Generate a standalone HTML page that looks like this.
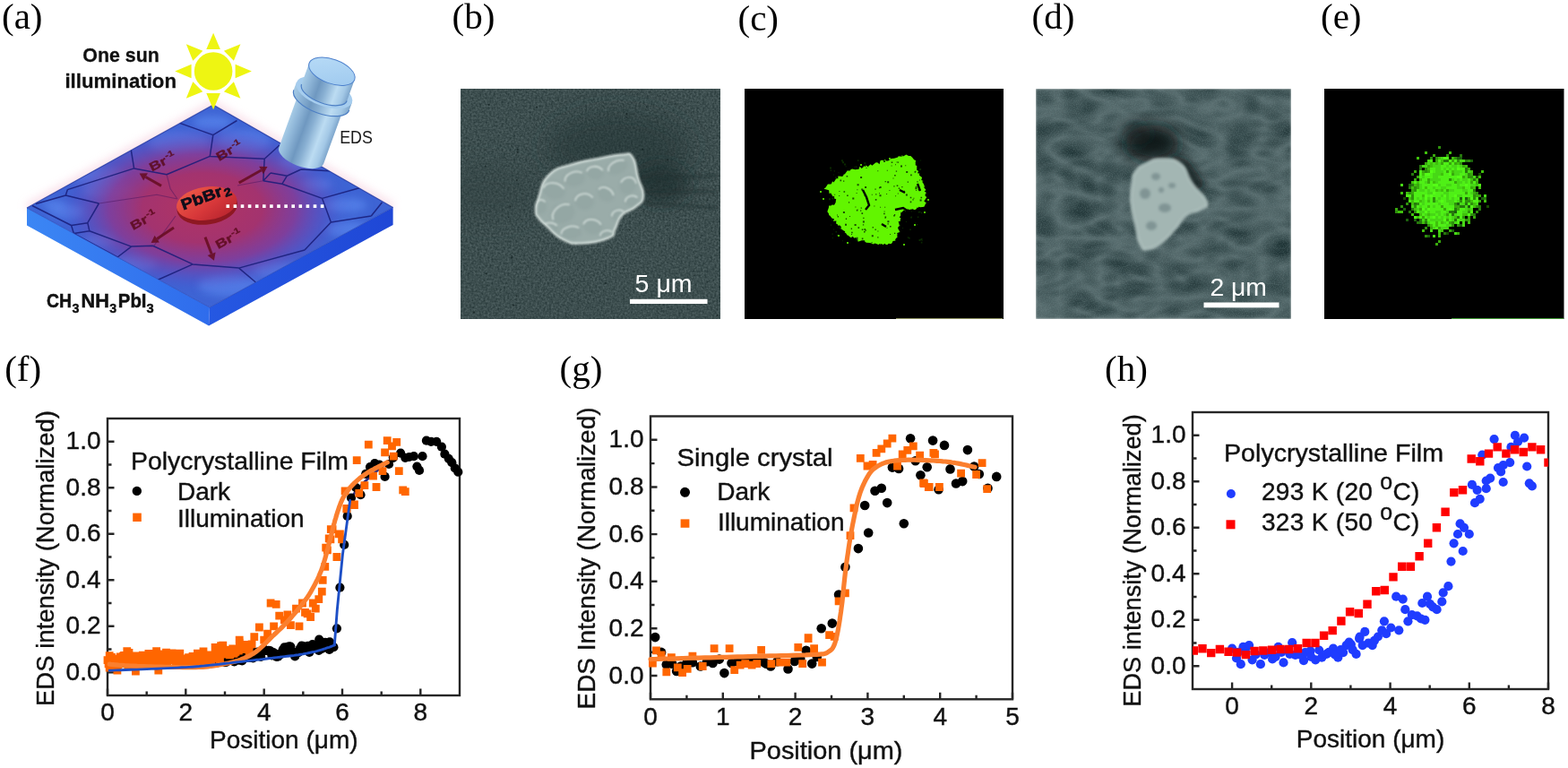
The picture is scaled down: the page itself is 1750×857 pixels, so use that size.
<!DOCTYPE html><html><head><meta charset="utf-8"><title>EDS figure</title><style>html,body{margin:0;padding:0;background:#fff;overflow:hidden}svg{display:block}</style></head><body>
<svg width="1750" height="857" viewBox="0 0 1750 857">
<rect width="1750" height="857" fill="#fff"/>
<g font-family="'Liberation Serif', 'Times New Roman', serif" font-size="41" fill="#000"><text x="2" y="32.3">(a)</text><text x="504.5" y="32.3">(b)</text><text x="823.5" y="34.4">(c)</text><text x="1151.5" y="32.4">(d)</text><text x="1474" y="32.4">(e)</text><text x="5.2" y="425.3">(f)</text><text x="624.5" y="425.3">(g)</text><text x="1233" y="425.3">(h)</text></g>
<defs><radialGradient id="aglow" cx="228" cy="232" r="1" gradientUnits="userSpaceOnUse" gradientTransform="translate(228 232) scale(215 130) translate(-228 -232)"><stop offset="0" stop-color="#f3b8cf" stop-opacity="0.7"/><stop offset="0.7" stop-color="#f6d2e0" stop-opacity="0.45"/><stop offset="1" stop-color="#fff" stop-opacity="0"/></radialGradient><radialGradient id="ared" cx="226" cy="232" r="1" gradientUnits="userSpaceOnUse" gradientTransform="translate(226 232) scale(168 97) translate(-226 -232)"><stop offset="0" stop-color="#b23462"/><stop offset="0.4" stop-color="#a3336f"/><stop offset="0.62" stop-color="#8a3892" stop-opacity="0.85"/><stop offset="0.8" stop-color="#6a42b2" stop-opacity="0.4"/><stop offset="0.92" stop-color="#5548c4" stop-opacity="0.1"/><stop offset="1" stop-color="#4a4fd0" stop-opacity="0"/></radialGradient><linearGradient id="aside1" x1="0" y1="0" x2="1" y2="0"><stop offset="0" stop-color="#3b86f4"/><stop offset="1" stop-color="#2f6cec"/></linearGradient><linearGradient id="aside2" x1="0" y1="0" x2="1" y2="0"><stop offset="0" stop-color="#2558e2"/><stop offset="1" stop-color="#1f47d6"/></linearGradient><linearGradient id="cyl" x1="0" y1="0" x2="1" y2="0"><stop offset="0" stop-color="#a6cbe6"/><stop offset="0.15" stop-color="#8fb6d8"/><stop offset="0.35" stop-color="#6f98c0"/><stop offset="0.5" stop-color="#88afd2"/><stop offset="0.72" stop-color="#bcdcf2"/><stop offset="0.88" stop-color="#a3c8e6"/><stop offset="1" stop-color="#7ea6cc"/></linearGradient><linearGradient id="cyltop" x1="0" y1="0" x2="1" y2="1"><stop offset="0" stop-color="#b9dcf7"/><stop offset="1" stop-color="#9dc8ee"/></linearGradient><linearGradient id="disk" x1="0" y1="0" x2="1" y2="1"><stop offset="0" stop-color="#f0604a"/><stop offset="0.55" stop-color="#d8383a"/><stop offset="1" stop-color="#b0202c"/></linearGradient><clipPath id="atop"><path d="M238 117L438.6 231.4L234 343L30 232Z"/></clipPath><filter id="ablur" x="-20%" y="-20%" width="140%" height="140%"><feGaussianBlur stdDeviation="10"/></filter><filter id="ablur2"><feGaussianBlur stdDeviation="0.6"/></filter><filter id="ablur3" x="-20%" y="-20%" width="140%" height="140%"><feGaussianBlur stdDeviation="4"/></filter><filter id="ablur4" x="-20%" y="-20%" width="140%" height="140%"><feGaussianBlur stdDeviation="5"/></filter></defs>
<path d="M30 232L238 117L438.6 231.4" fill="none" stroke="#f4c6d8" stroke-width="9" opacity="0.55" filter="url(#ablur4)"/>
<path d="M30 232L234 343L233 363.5L30 251.5Z" fill="url(#aside1)"/>
<path d="M234 343L438.6 231.4L438.6 250.9L233 363.5Z" fill="url(#aside2)"/>
<path d="M238 117L438.6 231.4L234 343L30 232Z" fill="#3e64d4"/>
<g clip-path="url(#atop)">
<g filter="url(#ablur3)">
<ellipse cx="237" cy="137" rx="22" ry="8" fill="#5e8cf2" opacity="0.6"/>
<ellipse cx="200" cy="160" rx="34" ry="13" fill="#5e8cf2" opacity="0.6"/>
<ellipse cx="272" cy="158" rx="30" ry="13" fill="#5e8cf2" opacity="0.6"/>
<ellipse cx="108" cy="196" rx="34" ry="9" fill="#5e8cf2" opacity="0.6"/>
<ellipse cx="122" cy="213" rx="30" ry="9" fill="#5e8cf2" opacity="0.6"/>
<ellipse cx="75" cy="236" rx="20" ry="8" fill="#5e8cf2" opacity="0.6"/>
<ellipse cx="112" cy="268" rx="18" ry="7" fill="#5e8cf2" opacity="0.6"/>
<ellipse cx="152" cy="293" rx="24" ry="9" fill="#5e8cf2" opacity="0.6"/>
<ellipse cx="255" cy="318" rx="34" ry="12" fill="#5e8cf2" opacity="0.6"/>
<ellipse cx="312" cy="302" rx="30" ry="10" fill="#5e8cf2" opacity="0.6"/>
<ellipse cx="388" cy="256" rx="24" ry="9" fill="#5e8cf2" opacity="0.6"/>
<ellipse cx="386" cy="229" rx="24" ry="8" fill="#5e8cf2" opacity="0.6"/>
<ellipse cx="352" cy="206" rx="18" ry="7" fill="#5e8cf2" opacity="0.6"/>
<ellipse cx="330" cy="182" rx="20" ry="8" fill="#5e8cf2" opacity="0.6"/>
<ellipse cx="60" cy="228" rx="14" ry="5" fill="#5e8cf2" opacity="0.6"/>
</g>
<rect x="0" y="100" width="460" height="270" fill="url(#ared)"/>
<path d="M198.6 136.6L237.8 150.6M237.8 150.6L264.5 134.5M237.8 150.6L234.3 174.4M146.1 166.1L149.6 187.9M149.6 187.9L186 194.7M186 194.7L234.3 174.4M234.3 174.4L295.2 177.3M295.2 177.3L312 162M149.6 187.9L75.4 211.6M75.4 211.6L73.3 218M73.3 218L40 227.5M73.3 218L110.4 227M110.4 227L97.8 248.7M97.8 248.7L79.6 251.5M79.6 251.5L82.4 260.6M82.4 260.6L99.9 257.8M99.9 257.8L97.8 248.7M79.6 251.5L36 229.5M99.9 257.8L146.6 275.1M82.4 260.6L131.1 287M295.2 177.3L293.8 201.8M293.8 201.8L314.8 205.3M314.8 205.3L320.4 196.2M320.4 196.2L302 193M302 193L293.8 201.8M320.4 196.2L336 189M314.8 205.3L359.6 221.4M359.6 221.4L402 209.5M359.6 221.4L369.4 248M369.4 248L414.3 241M414.3 241L426.5 225.8M369.4 248L340 279M146.6 275.1L170.6 274.3M170.6 274.3L215.2 294.9M146.6 275.1L131.1 287M215.2 294.9L266.6 299.1M215.2 294.9L175.7 312.5M266.6 299.1L340 279M266.6 299.1L285.4 315M336 189L372 191" fill="none" stroke="#181c78" stroke-width="1.5" stroke-linejoin="round" opacity="0.85"/>
<path d="M110.4 227L175 217.2M175 217.2L198 222M186 194.7L190.2 210.8M190.2 210.8L198 222M265 207L293.8 201.8M196 241L172 274" fill="none" stroke="#4a1660" stroke-width="1.1" opacity="0.5"/>
</g>
<path d="M30 232L234 343L438.6 231.4" fill="none" stroke="#1a3ab0" stroke-width="1" opacity="0.6"/>
<path d="M30 232L238 117L438.6 231.4" fill="none" stroke="#1a2f9a" stroke-width="1.2" opacity="0.7"/>
<g fill="#eef512"><circle cx="238.1" cy="79.5" r="21.3"/><path d="M238.1 36.7L245.9 55.0L230.3 55.0ZM268.4 49.2L260.9 67.7L249.9 56.7ZM280.9 79.5L262.6 87.3L262.6 71.7ZM268.4 109.8L249.9 102.3L260.9 91.3ZM238.1 122.3L230.3 104.0L245.9 104.0ZM207.8 109.8L215.3 91.3L226.3 102.3ZM195.3 79.5L213.6 71.7L213.6 87.3ZM207.8 49.2L226.3 56.7L215.3 67.7Z"/></g>
<path d="M180.0 207.4L162.6 197.5" stroke="#650c1e" stroke-width="3" opacity="0.85"/>
<path d="M155.6 193.5L164.9 193.3L160.2 201.6Z" fill="#650c1e" opacity="0.85"/>
<path d="M266.7 204.0L291.5 190.0" stroke="#650c1e" stroke-width="3" opacity="0.85"/>
<path d="M298.5 186.1L293.9 194.2L289.2 185.8Z" fill="#650c1e" opacity="0.85"/>
<path d="M194.0 254.0L175.2 266.6" stroke="#650c1e" stroke-width="3" opacity="0.85"/>
<path d="M168.6 271.1L172.6 262.7L177.9 270.6Z" fill="#650c1e" opacity="0.85"/>
<path d="M229.0 264.6L236.1 283.2" stroke="#650c1e" stroke-width="3" opacity="0.85"/>
<path d="M238.9 290.7L231.6 284.9L240.6 281.5Z" fill="#650c1e" opacity="0.85"/>
<text transform="translate(169.5 191.5) rotate(-27) scale(1.05 0.8)" font-family="'Liberation Sans', Arial, sans-serif" font-weight="bold" font-size="17" fill="#5a0a1a" stroke="#5a0a1a" stroke-width="0.4" opacity="0.85">Br<tspan font-size="11" dx="1" dy="-7">-1</tspan></text>
<text transform="translate(244.5 180) rotate(-30) scale(1.05 0.8)" font-family="'Liberation Sans', Arial, sans-serif" font-weight="bold" font-size="17" fill="#5a0a1a" stroke="#5a0a1a" stroke-width="0.4" opacity="0.85">Br<tspan font-size="11" dx="1" dy="-7">-1</tspan></text>
<text transform="translate(148.5 257) rotate(-28) scale(1.05 0.8)" font-family="'Liberation Sans', Arial, sans-serif" font-weight="bold" font-size="17" fill="#5a0a1a" stroke="#5a0a1a" stroke-width="0.4" opacity="0.85">Br<tspan font-size="11" dx="1" dy="-7">-1</tspan></text>
<text transform="translate(243.5 278) rotate(-28) scale(1.05 0.8)" font-family="'Liberation Sans', Arial, sans-serif" font-weight="bold" font-size="17" fill="#5a0a1a" stroke="#5a0a1a" stroke-width="0.4" opacity="0.85">Br<tspan font-size="11" dx="1" dy="-7">-1</tspan></text>
<g transform="rotate(-8 231 229)">
<ellipse cx="231" cy="231" rx="34" ry="19.5" fill="#8e1822"/>
<ellipse cx="231" cy="227" rx="34" ry="18.5" fill="url(#disk)"/>
</g>
<text transform="translate(204.5 234.5) rotate(-20) scale(1 0.85)" font-family="'Liberation Sans', Arial, sans-serif" font-weight="bold" font-size="20" fill="#0d0d1a" stroke="#0d0d1a" stroke-width="0.7">PbBr<tspan font-size="15" dx="1.5" dy="3">2</tspan></text>
<path d="M252.5 228.3h3.6v3.6h-3.6zM260.6 228.3h3.6v3.6h-3.6zM268.7 228.3h3.6v3.6h-3.6zM276.8 228.3h3.6v3.6h-3.6zM284.9 228.3h3.6v3.6h-3.6zM293.0 228.3h3.6v3.6h-3.6zM301.1 228.3h3.6v3.6h-3.6zM309.2 228.3h3.6v3.6h-3.6zM317.3 228.3h3.6v3.6h-3.6zM325.4 228.3h3.6v3.6h-3.6zM333.5 228.3h3.6v3.6h-3.6zM341.6 228.3h3.6v3.6h-3.6zM349.7 228.3h3.6v3.6h-3.6zM357.8 228.3h3.6v3.6h-3.6z" fill="#fff"/>
<g transform="translate(370.4 79.7) rotate(20)">
<path d="M-26.5 34V100A26.5 12 0 0 0 26.5 100V34Z" fill="url(#cyl)"/>
<path d="M-33 25V34A33 15 0 0 0 33 34V25Z" fill="url(#cyl)"/>
<ellipse cx="0" cy="25" rx="33" ry="15" fill="#a6cdee"/>
<path d="M-27 0V25A27 12 0 0 0 27 25V0Z" fill="url(#cyl)"/>
<path d="M-27 25A27 12 0 0 0 27 25" fill="none" stroke="#4d7fc4" stroke-width="1.2"/>
<path d="M-33 34A33 15 0 0 0 33 34" fill="none" stroke="#4d7fc4" stroke-width="1.2"/>
<ellipse cx="0" cy="0" rx="27" ry="13.5" fill="url(#cyltop)" stroke="#4d80cc" stroke-width="1"/>
</g>
<text x="92.3" y="68.7" font-family="'Liberation Sans', Arial, sans-serif" font-weight="bold" font-size="22.5" fill="#111" stroke="#111" stroke-width="0.3" textLength="85.5" lengthAdjust="spacingAndGlyphs">One sun</text>
<text x="72.4" y="98.2" font-family="'Liberation Sans', Arial, sans-serif" font-weight="bold" font-size="22.5" fill="#111" stroke="#111" stroke-width="0.3" textLength="124.6" lengthAdjust="spacingAndGlyphs">illumination</text>
<text x="379.2" y="160" font-family="'Liberation Sans', Arial, sans-serif" font-size="21" fill="#1a1a1a" textLength="36.7" lengthAdjust="spacingAndGlyphs">EDS</text>
<text x="52" y="343.4" font-family="'Liberation Sans', Arial, sans-serif" font-weight="bold" font-size="22.3" fill="#111" stroke="#111" stroke-width="0.5" textLength="28.0" lengthAdjust="spacingAndGlyphs">CH</text>
<text x="80.6" y="349" font-family="'Liberation Sans', Arial, sans-serif" font-weight="bold" font-size="15.5" fill="#111" stroke="#111" stroke-width="0.4" textLength="8.0" lengthAdjust="spacingAndGlyphs">3</text>
<text x="90.6" y="343.4" font-family="'Liberation Sans', Arial, sans-serif" font-weight="bold" font-size="22.3" fill="#111" stroke="#111" stroke-width="0.5" textLength="31.4" lengthAdjust="spacingAndGlyphs">NH</text>
<text x="122.3" y="349" font-family="'Liberation Sans', Arial, sans-serif" font-weight="bold" font-size="15.5" fill="#111" stroke="#111" stroke-width="0.4" textLength="7.9" lengthAdjust="spacingAndGlyphs">3</text>
<text x="131.8" y="343.4" font-family="'Liberation Sans', Arial, sans-serif" font-weight="bold" font-size="22.3" fill="#111" stroke="#111" stroke-width="0.5" textLength="31.7" lengthAdjust="spacingAndGlyphs">PbI</text>
<text x="163.4" y="349" font-family="'Liberation Sans', Arial, sans-serif" font-weight="bold" font-size="15.5" fill="#111" stroke="#111" stroke-width="0.4" textLength="8.2" lengthAdjust="spacingAndGlyphs">3</text>
<defs><filter id="nzb" x="0" y="0" width="100%" height="100%" color-interpolation-filters="sRGB"><feTurbulence type="fractalNoise" baseFrequency="0.45" numOctaves="2" seed="3"/><feColorMatrix type="matrix" values="0.235 0 0 0 0.122  0.235 0 0 0 0.189  0.235 0 0 0 0.192  0 0 0 0 1"/><feGaussianBlur stdDeviation="0.5"/></filter><filter id="bl4"><feGaussianBlur stdDeviation="4"/></filter><filter id="bl8" x="-50%" y="-50%" width="200%" height="200%"><feGaussianBlur stdDeviation="9"/></filter><filter id="bl14" x="-50%" y="-50%" width="200%" height="200%"><feGaussianBlur stdDeviation="14"/></filter><filter id="bl1"><feGaussianBlur stdDeviation="0.8"/></filter><filter id="bl2" x="-20%" y="-20%" width="140%" height="140%"><feGaussianBlur stdDeviation="1.6"/></filter><clipPath id="cb"><rect x="514" y="99" width="290" height="257"/></clipPath></defs>
<g clip-path="url(#cb)">
<rect x="514" y="99" width="290" height="257" filter="url(#nzb)"/>
<ellipse cx="545" cy="215" rx="60" ry="32" fill="#2a3a3b" opacity="0.3" filter="url(#bl14)"/>
<ellipse cx="690" cy="165" rx="80" ry="40" fill="#1e2e2f" opacity="0.45" filter="url(#bl14)"/>
<ellipse cx="738" cy="205" rx="32" ry="22" fill="#172526" opacity="0.55" filter="url(#bl8)"/>
<path d="M715 200L800 196M718 214L800 214M712 226L800 232" stroke="#223233" stroke-width="4" opacity="0.45" filter="url(#bl2)"/>
<g fill="#0f1c1c" opacity="0.7"><circle cx="645.5" cy="242.5" r="1.1"/><circle cx="649.2" cy="229.5" r="0.9"/><circle cx="569.4" cy="230.5" r="0.9"/><circle cx="742.2" cy="125.6" r="0.8"/><circle cx="542.8" cy="305.2" r="0.9"/><circle cx="528.9" cy="348.5" r="1.1"/><circle cx="702.7" cy="256.5" r="0.7"/><circle cx="521.3" cy="234.6" r="0.6"/><circle cx="571.0" cy="162.7" r="0.6"/><circle cx="648.8" cy="212.6" r="1.0"/><circle cx="664.4" cy="262.7" r="0.8"/><circle cx="705.1" cy="216.8" r="0.7"/><circle cx="800.3" cy="351.9" r="1.0"/><circle cx="718.0" cy="181.1" r="0.7"/><circle cx="599.1" cy="119.6" r="1.0"/><circle cx="630.7" cy="314.5" r="0.8"/><circle cx="789.1" cy="314.7" r="0.6"/><circle cx="576.6" cy="330.5" r="0.8"/><circle cx="795.4" cy="201.8" r="0.6"/><circle cx="695.8" cy="297.4" r="0.7"/><circle cx="541.7" cy="185.5" r="1.1"/><circle cx="732.3" cy="131.6" r="0.7"/><circle cx="545.7" cy="117.0" r="1.0"/><circle cx="567.5" cy="242.4" r="0.8"/><circle cx="571.2" cy="285.7" r="0.7"/><circle cx="699.8" cy="131.2" r="0.8"/><circle cx="577.5" cy="169.7" r="1.1"/><circle cx="745.2" cy="178.3" r="1.0"/><circle cx="576.8" cy="201.0" r="1.0"/><circle cx="699.3" cy="127.2" r="1.1"/><circle cx="577.6" cy="166.8" r="1.0"/><circle cx="610.4" cy="176.4" r="0.6"/><circle cx="542.6" cy="248.3" r="0.7"/><circle cx="687.8" cy="195.3" r="0.8"/><circle cx="789.4" cy="223.4" r="0.9"/><circle cx="763.1" cy="147.9" r="0.7"/><circle cx="775.0" cy="307.3" r="0.7"/><circle cx="570.9" cy="287.6" r="1.1"/><circle cx="572.8" cy="340.5" r="1.0"/><circle cx="688.4" cy="207.8" r="0.7"/><circle cx="528.0" cy="343.6" r="0.7"/><circle cx="717.1" cy="166.5" r="1.0"/><circle cx="686.4" cy="175.7" r="0.7"/><circle cx="721.6" cy="119.3" r="0.7"/><circle cx="675.9" cy="316.0" r="0.9"/></g>
<path d="M598.0 235.5C598.0 230.0 597.2 231.1 601.0 221.0C604.8 210.9 603.2 204.5 613.0 195.0C622.8 185.5 626.2 187.5 640.0 183.0C653.8 178.5 654.5 179.6 668.0 177.0C681.5 174.4 684.5 172.9 694.0 172.5C703.5 172.1 701.5 169.1 706.0 175.5C710.5 181.9 709.0 187.1 712.0 198.0C715.0 208.9 718.8 210.8 718.0 219.0C717.2 227.2 715.0 225.8 709.0 231.0C703.0 236.2 699.6 234.0 694.0 240.0C688.4 246.0 690.2 248.6 686.5 255.0C682.8 261.4 688.4 261.4 679.0 265.5C669.6 269.6 661.8 271.1 649.0 271.5C636.2 271.9 637.8 271.9 628.0 267.0C618.2 262.1 616.8 258.0 610.0 252.0C603.2 246.0 604.0 247.1 601.0 243.0C598.0 238.9 598.0 241.0 598.0 235.5Z" fill="#9aaca9"/>
<clipPath id="pclip"><path d="M598.0 235.5C598.0 230.0 597.2 231.1 601.0 221.0C604.8 210.9 603.2 204.5 613.0 195.0C622.8 185.5 626.2 187.5 640.0 183.0C653.8 178.5 654.5 179.6 668.0 177.0C681.5 174.4 684.5 172.9 694.0 172.5C703.5 172.1 701.5 169.1 706.0 175.5C710.5 181.9 709.0 187.1 712.0 198.0C715.0 208.9 718.8 210.8 718.0 219.0C717.2 227.2 715.0 225.8 709.0 231.0C703.0 236.2 699.6 234.0 694.0 240.0C688.4 246.0 690.2 248.6 686.5 255.0C682.8 261.4 688.4 261.4 679.0 265.5C669.6 269.6 661.8 271.1 649.0 271.5C636.2 271.9 637.8 271.9 628.0 267.0C618.2 262.1 616.8 258.0 610.0 252.0C603.2 246.0 604.0 247.1 601.0 243.0C598.0 238.9 598.0 241.0 598.0 235.5Z"/></clipPath>
<g clip-path="url(#pclip)">
<g fill="#8a9e9b" opacity="0.35" filter="url(#bl2)"><ellipse cx="618" cy="212" rx="13" ry="10" transform="rotate(20 618 212)"/><ellipse cx="641" cy="199" rx="12" ry="9" transform="rotate(-10 641 199)"/><ellipse cx="664" cy="192" rx="10" ry="8" transform="rotate(15 664 192)"/><ellipse cx="689" cy="186" rx="12" ry="8" transform="rotate(-20 689 186)"/><ellipse cx="701" cy="206" rx="9" ry="11" transform="rotate(30 701 206)"/><ellipse cx="705" cy="224" rx="8" ry="7" transform="rotate(0 705 224)"/><ellipse cx="628" cy="238" rx="14" ry="11" transform="rotate(-25 628 238)"/><ellipse cx="652" cy="224" rx="11" ry="10" transform="rotate(10 652 224)"/><ellipse cx="676" cy="216" rx="10" ry="8" transform="rotate(40 676 216)"/><ellipse cx="690" cy="240" rx="8" ry="7" transform="rotate(0 690 240)"/><ellipse cx="614" cy="254" rx="9" ry="7" transform="rotate(10 614 254)"/><ellipse cx="637" cy="259" rx="12" ry="8" transform="rotate(-5 637 259)"/><ellipse cx="661" cy="252" rx="11" ry="9" transform="rotate(20 661 252)"/><ellipse cx="677" cy="262" rx="8" ry="6" transform="rotate(0 677 262)"/><ellipse cx="603" cy="230" rx="7" ry="9" transform="rotate(0 603 230)"/></g>
<g fill="none" stroke="#dde7e3" stroke-width="1.8" opacity="0.85" filter="url(#bl1)"><path d="M606.3 214.0A13 10 0 0 1 628.4 207.0" transform="rotate(20 618 212)"/><path d="M630.2 200.8A12 9 0 0 1 650.6 194.5" transform="rotate(-10 641 199)"/><path d="M655.0 193.6A10 8 0 0 1 672.0 188.0" transform="rotate(15 664 192)"/><path d="M678.2 187.6A12 8 0 0 1 698.6 182.0" transform="rotate(-20 689 186)"/><path d="M692.9 208.2A9 11 0 0 1 708.2 200.5" transform="rotate(30 701 206)"/><path d="M697.8 225.4A8 7 0 0 1 711.4 220.5" transform="rotate(0 705 224)"/><path d="M615.4 240.2A14 11 0 0 1 639.2 232.5" transform="rotate(-25 628 238)"/><path d="M642.1 226.0A11 10 0 0 1 660.8 219.0" transform="rotate(10 652 224)"/><path d="M667.0 217.6A10 8 0 0 1 684.0 212.0" transform="rotate(40 676 216)"/><path d="M682.8 241.4A8 7 0 0 1 696.4 236.5" transform="rotate(0 690 240)"/><path d="M605.9 255.4A9 7 0 0 1 621.2 250.5" transform="rotate(10 614 254)"/><path d="M626.2 260.6A12 8 0 0 1 646.6 255.0" transform="rotate(-5 637 259)"/><path d="M651.1 253.8A11 9 0 0 1 669.8 247.5" transform="rotate(20 661 252)"/><path d="M669.8 263.2A8 6 0 0 1 683.4 259.0" transform="rotate(0 677 262)"/><path d="M596.7 231.8A7 9 0 0 1 608.6 225.5" transform="rotate(0 603 230)"/></g>
</g>
<path d="M598.0 235.5C598.0 230.0 597.2 231.1 601.0 221.0C604.8 210.9 603.2 204.5 613.0 195.0C622.8 185.5 626.2 187.5 640.0 183.0C653.8 178.5 654.5 179.6 668.0 177.0C681.5 174.4 684.5 172.9 694.0 172.5C703.5 172.1 701.5 169.1 706.0 175.5C710.5 181.9 709.0 187.1 712.0 198.0C715.0 208.9 718.8 210.8 718.0 219.0C717.2 227.2 715.0 225.8 709.0 231.0C703.0 236.2 699.6 234.0 694.0 240.0C688.4 246.0 690.2 248.6 686.5 255.0C682.8 261.4 688.4 261.4 679.0 265.5C669.6 269.6 661.8 271.1 649.0 271.5C636.2 271.9 637.8 271.9 628.0 267.0C618.2 262.1 616.8 258.0 610.0 252.0C603.2 246.0 604.0 247.1 601.0 243.0C598.0 238.9 598.0 241.0 598.0 235.5Z" fill="none" stroke="#d4dfdb" stroke-width="2.6" opacity="0.95" filter="url(#bl1)"/>
</g>
<rect x="703" y="333.8" width="86.5" height="5.2" fill="#fff"/>
<text x="708.6" y="325.6" font-family="'Liberation Sans', Arial, sans-serif" font-size="27.5" fill="#fff" textLength="64" lengthAdjust="spacingAndGlyphs">5 μm</text>
<rect x="831" y="99" width="289" height="257" fill="#000"/>
<path d="M920.2 210.1L921.3 209.5L922.9 207.0L922.0 208.5L923.9 205.6L927.4 205.4L928.2 204.4L929.0 202.3L930.4 203.5L931.5 202.0L933.5 198.7L935.3 199.4L935.4 196.5L938.9 196.7L939.9 196.9L941.2 196.1L941.5 194.8L942.9 194.3L945.5 190.8L944.6 190.4L948.7 190.4L949.4 189.2L951.0 188.6L952.2 188.7L954.5 189.2L956.4 188.9L958.5 188.7L959.5 185.8L961.7 188.1L963.4 186.6L964.3 185.2L966.3 186.1L966.2 184.2L969.6 186.8L968.9 185.8L971.7 183.3L973.3 184.7L977.0 181.8L977.8 181.3L979.6 181.6L981.5 183.2L981.7 182.7L982.5 179.2L984.9 178.6L985.2 179.2L988.4 177.9L988.5 179.6L991.2 179.4L994.8 177.0L995.1 177.0L997.4 176.8L998.8 176.4L1001.7 175.6L1001.7 175.9L1002.7 174.2L1006.6 174.7L1006.7 172.8L1007.8 174.4L1008.0 174.4L1011.4 172.6L1014.1 174.0L1016.4 174.0L1018.1 175.8L1017.2 174.5L1020.4 178.5L1020.2 178.3L1022.2 179.3L1021.7 180.7L1021.8 183.2L1021.6 184.2L1023.3 185.1L1023.2 189.8L1023.0 189.6L1025.2 191.1L1023.9 193.2L1026.3 193.5L1025.9 195.6L1028.3 197.4L1029.1 198.0L1028.2 201.1L1030.6 202.1L1029.1 202.8L1030.7 204.9L1032.2 208.8L1030.7 208.6L1033.1 211.4L1033.5 212.0L1031.6 213.4L1033.9 214.9L1032.5 217.0L1032.7 218.7L1034.3 220.1L1031.3 224.6L1033.9 226.6L1032.1 228.2L1033.0 227.4L1031.4 230.8L1029.5 231.1L1027.0 231.2L1025.3 230.8L1024.9 231.9L1023.9 231.3L1022.4 233.5L1020.6 234.3L1018.7 233.3L1014.1 233.9L1012.9 232.7L1012.9 233.7L1010.7 235.4L1009.0 234.3L1006.5 236.7L1006.3 237.2L1005.3 236.7L1005.1 241.0L1003.6 242.3L1005.7 243.8L1005.3 242.8L1004.6 247.1L1002.7 246.9L1003.3 249.4L1003.7 251.0L1004.8 251.2L1002.3 253.4L1002.2 254.9L1004.5 259.1L1001.2 260.0L1001.5 261.2L1001.3 264.0L1001.7 264.7L999.9 266.0L999.0 268.0L999.9 268.6L996.5 269.0L995.6 271.3L995.6 271.1L994.4 272.2L991.8 271.7L990.5 273.0L988.8 273.0L987.3 271.7L986.0 273.1L982.9 272.1L982.3 273.5L982.2 271.7L980.4 272.9L976.6 271.6L974.4 272.5L974.3 272.5L972.9 271.5L970.7 270.9L966.8 270.7L964.7 268.9L965.5 268.3L961.6 268.1L962.6 267.9L958.3 269.6L957.1 269.2L957.4 268.6L956.9 267.2L954.9 264.9L953.4 265.7L951.7 263.7L949.8 265.3L945.9 262.3L946.0 262.9L943.8 259.7L942.7 260.1L943.2 258.2L940.9 257.1L939.8 256.0L937.7 255.0L939.0 253.2L937.0 251.2L935.7 252.0L934.7 250.2L933.1 249.4L933.4 246.5L929.7 246.8L931.2 244.5L928.4 243.6L926.4 240.7L925.3 240.3L924.7 237.7L925.1 238.5L923.4 236.2L923.7 235.1L924.9 231.7L925.1 229.6L927.6 229.6L928.5 228.5L930.7 228.8L931.4 228.2L932.9 225.3L932.7 224.7L933.2 222.3L931.1 221.4L931.2 218.9L929.5 219.3L927.3 215.6L925.3 215.9L925.5 215.5L925.1 212.2L919.7 210.7Z" fill="#62f500"/>
<path fill="#0c3000" opacity="0.85" d="M990.4 246.2h2v2h-2zM928.0 220.8h1v1h-1zM993.1 260.9h1v1h-1zM964.0 257.9h1.6v1.6h-1.6zM982.1 230.8h1v1h-1zM1001.8 215.5h1v1h-1zM1021.2 248.4h1v1h-1zM1005.0 184.6h2v2h-2zM989.8 189.7h1v1h-1zM1027.1 178.5h1v1h-1zM1025.8 193.3h1v1h-1zM955.4 266.5h2v2h-2zM1017.0 235.6h1v1h-1zM1023.8 241.5h1.6v1.6h-1.6zM956.4 211.2h1v1h-1zM1023.3 202.3h1.3v1.3h-1.3zM956.6 233.5h1v1h-1zM987.6 243.1h1v1h-1zM957.5 253.3h1.6v1.6h-1.6zM998.1 195.0h1.6v1.6h-1.6zM999.0 183.2h1v1h-1zM1024.7 210.9h1.6v1.6h-1.6zM926.9 250.5h1.3v1.3h-1.3zM964.5 255.4h1.6v1.6h-1.6zM929.9 194.6h1v1h-1zM937.5 200.6h1.6v1.6h-1.6zM961.2 210.6h2v2h-2zM951.3 220.6h2v2h-2zM1003.6 251.3h1.3v1.3h-1.3zM928.8 265.0h1v1h-1zM946.9 225.2h1.3v1.3h-1.3zM1021.4 209.3h2v2h-2zM934.7 241.1h1.3v1.3h-1.3zM943.6 185.2h1v1h-1zM1000.7 206.5h1.6v1.6h-1.6zM942.0 182.5h2v2h-2zM981.0 215.3h1v1h-1zM1002.8 209.6h1.3v1.3h-1.3zM972.8 216.8h1v1h-1zM1027.8 236.7h1.6v1.6h-1.6zM960.1 197.0h2v2h-2zM1024.7 236.0h1.6v1.6h-1.6zM936.2 218.0h1v1h-1zM931.2 216.7h1v1h-1zM972.6 269.9h1v1h-1zM1027.5 219.7h1.6v1.6h-1.6zM997.3 207.2h1.3v1.3h-1.3zM955.6 215.1h1v1h-1zM936.8 253.6h2v2h-2zM1025.8 235.7h1.6v1.6h-1.6zM1016.1 194.6h1.6v1.6h-1.6zM953.6 249.9h2v2h-2zM962.9 250.3h1.3v1.3h-1.3zM997.9 239.1h1.3v1.3h-1.3zM963.2 242.8h1.3v1.3h-1.3zM1012.7 202.4h1.3v1.3h-1.3zM1025.5 209.3h1v1h-1zM986.0 179.1h2v2h-2zM1006.2 208.0h1.3v1.3h-1.3zM973.6 253.1h1.3v1.3h-1.3zM961.5 237.3h1.6v1.6h-1.6zM961.8 255.5h1.6v1.6h-1.6zM1027.5 266.0h2v2h-2zM939.9 268.2h1v1h-1zM1012.8 264.2h1.6v1.6h-1.6zM954.7 185.3h1.6v1.6h-1.6zM943.0 249.8h2v2h-2zM979.2 264.2h1.3v1.3h-1.3zM990.5 249.3h1.3v1.3h-1.3zM1000.6 180.5h1v1h-1zM986.6 235.4h1v1h-1zM948.0 241.1h1v1h-1zM1028.6 268.1h1v1h-1zM930.7 190.3h1.3v1.3h-1.3zM1026.6 222.4h2v2h-2zM928.7 220.8h1.6v1.6h-1.6zM994.6 184.6h1v1h-1zM950.0 261.1h1v1h-1zM961.8 265.6h1.6v1.6h-1.6zM1016.0 241.4h2v2h-2zM964.3 181.3h2v2h-2zM956.6 205.2h2v2h-2zM960.6 231.4h1.3v1.3h-1.3zM1010.9 216.6h2v2h-2zM992.4 212.0h1v1h-1zM941.5 213.2h1.6v1.6h-1.6zM1025.5 267.1h2v2h-2zM934.5 253.6h1v1h-1zM965.1 208.0h2v2h-2zM981.6 207.9h2v2h-2zM964.5 217.7h1v1h-1zM976.8 222.1h1.6v1.6h-1.6zM965.3 256.7h1v1h-1zM987.6 201.9h1.3v1.3h-1.3zM977.1 216.2h1.3v1.3h-1.3zM1024.2 206.3h1.3v1.3h-1.3zM940.0 180.2h2v2h-2zM1025.9 200.6h1v1h-1zM1007.1 254.1h1v1h-1zM975.4 229.5h1v1h-1zM1023.2 249.9h1v1h-1zM976.5 255.6h1.3v1.3h-1.3zM955.8 233.9h1.6v1.6h-1.6zM979.4 257.4h1v1h-1zM926.7 189.6h1.3v1.3h-1.3zM981.0 208.9h1.3v1.3h-1.3zM1001.8 180.4h1.3v1.3h-1.3zM962.9 246.5h2v2h-2zM938.9 178.3h2v2h-2zM972.8 262.3h2v2h-2zM945.1 217.5h1.6v1.6h-1.6zM987.5 241.4h1.6v1.6h-1.6zM1015.2 255.4h1.6v1.6h-1.6zM966.1 256.4h1v1h-1zM1019.4 220.8h1v1h-1zM956.9 178.3h1.6v1.6h-1.6zM986.1 237.7h1.6v1.6h-1.6zM1020.6 191.1h1.6v1.6h-1.6zM998.0 259.8h1.3v1.3h-1.3zM981.5 217.2h2v2h-2zM1010.2 184.3h1v1h-1zM953.1 185.8h1v1h-1zM994.7 180.4h1.6v1.6h-1.6zM1027.8 269.8h1.6v1.6h-1.6zM930.1 255.5h1v1h-1zM989.5 253.8h1v1h-1zM999.8 190.4h1.3v1.3h-1.3zM999.1 218.3h1v1h-1zM989.1 216.1h1v1h-1zM932.1 197.6h2v2h-2zM936.4 212.9h1v1h-1zM954.4 230.5h1v1h-1zM1002.9 258.8h1v1h-1zM926.0 186.4h2v2h-2zM976.4 210.5h1.3v1.3h-1.3zM1021.1 190.7h1.3v1.3h-1.3zM940.9 236.1h2v2h-2zM955.5 264.7h2v2h-2zM990.2 202.2h2v2h-2zM949.7 254.6h1.3v1.3h-1.3zM979.3 190.3h1v1h-1zM1015.7 219.7h1.6v1.6h-1.6zM943.8 243.6h1.3v1.3h-1.3zM934.0 239.5h1v1h-1zM1015.7 224.6h1.6v1.6h-1.6zM950.1 258.7h1.6v1.6h-1.6zM1026.1 187.9h2v2h-2zM928.1 244.7h1v1h-1zM1014.1 264.9h1.6v1.6h-1.6zM996.5 198.5h1v1h-1zM933.8 261.8h1.6v1.6h-1.6zM1011.2 190.9h2v2h-2zM964.5 254.9h1.3v1.3h-1.3zM960.0 234.5h1.3v1.3h-1.3zM1008.6 212.8h1.3v1.3h-1.3zM993.0 252.0h1.6v1.6h-1.6zM1025.9 211.3h1v1h-1zM987.2 230.7h1v1h-1zM966.5 186.9h1v1h-1zM944.6 196.0h1.6v1.6h-1.6zM1018.4 222.3h1.3v1.3h-1.3zM925.0 221.3h2v2h-2zM1021.8 207.7h1.6v1.6h-1.6zM935.5 192.2h1v1h-1zM932.5 258.0h1.6v1.6h-1.6zM941.0 201.4h1.3v1.3h-1.3zM1010.9 247.0h1v1h-1zM928.5 260.5h1.3v1.3h-1.3zM1022.1 211.9h1v1h-1zM997.2 240.0h1.6v1.6h-1.6z"/>
<path d="M963 212L967 220L970 229L966 234M999 234L1008 232L1017 238L1014 244M984 250L989 253M1004 212L1010 215M1024 205L1027 213" stroke="#000" stroke-width="2.4" fill="none"/>
<path fill="#4cc400" d="M915 213h2v2h-2zM918 221h2v2h-2zM1035 222h2v2h-2zM1031 236h2v2h-2zM1020 250h2v2h-2zM935 262h2v2h-2zM945 270h2v2h-2zM1008 272h2v2h-2zM992 176h2v2h-2zM960 183h2v2h-2z"/>
<rect x="1000" y="355" width="119" height="1" fill="#e8f0a0" opacity="0.6"/>
<defs><filter id="nzd" x="0" y="0" width="100%" height="100%" color-interpolation-filters="sRGB"><feTurbulence type="turbulence" baseFrequency="0.022 0.045" numOctaves="2" seed="5"/><feColorMatrix type="matrix" values="-0.3 0 0 0 0.355  -0.3 0 0 0 0.435  -0.3 0 0 0 0.443  0 0 0 0 1"/><feGaussianBlur stdDeviation="1.2"/></filter><filter id="nzd2" x="0" y="0" width="100%" height="100%" color-interpolation-filters="sRGB"><feTurbulence type="fractalNoise" baseFrequency="0.8" numOctaves="1" seed="9"/><feColorMatrix type="matrix" values="0 0 0 0 0.5  0 0 0 0 0.6  0 0 0 0 0.6  2 0 0 0 -0.8"/></filter><clipPath id="cd"><rect x="1156" y="99" width="285" height="257"/></clipPath></defs>
<g clip-path="url(#cd)">
<rect x="1156" y="99" width="285" height="257" filter="url(#nzd)"/>
<rect x="1156" y="99" width="285" height="257" filter="url(#nzd2)" opacity="0.35"/>
<ellipse cx="1286" cy="160" rx="30" ry="21" fill="#0a1214" opacity="0.9" filter="url(#bl8)"/>
<ellipse cx="1268" cy="150" rx="18" ry="12" fill="#0a1214" opacity="0.5" filter="url(#bl8)"/>
<path d="M1300 170L1325 178L1345 205L1335 215L1318 190Z" fill="#0c1618" opacity="0.8" filter="url(#bl4)"/>
<path d="M1267.0 192.0C1271.0 186.5 1272.5 185.6 1280.0 182.0C1287.5 178.4 1287.5 177.3 1297.0 177.6C1306.5 177.8 1309.8 176.4 1318.0 183.0C1326.2 189.6 1322.9 193.5 1330.0 204.0C1337.1 214.5 1344.2 217.5 1346.5 225.0C1348.8 232.5 1344.6 230.2 1339.0 234.0C1333.4 237.8 1330.8 234.8 1324.0 240.0C1317.2 245.2 1318.8 247.5 1312.0 255.0C1305.2 262.5 1304.5 264.4 1297.0 270.0C1289.5 275.6 1288.0 276.8 1282.0 277.5C1276.0 278.2 1276.8 280.1 1273.0 273.0C1269.2 265.9 1269.6 261.0 1267.0 249.0C1264.4 237.0 1263.2 236.2 1262.5 225.0C1261.8 213.8 1262.9 212.2 1264.0 204.0C1265.1 195.8 1263.0 197.5 1267.0 192.0Z" fill="#a3b6b3" filter="url(#bl1)"/>
<path d="M1267.0 192.0C1271.0 186.5 1272.5 185.6 1280.0 182.0C1287.5 178.4 1287.5 177.3 1297.0 177.6C1306.5 177.8 1309.8 176.4 1318.0 183.0C1326.2 189.6 1322.9 193.5 1330.0 204.0C1337.1 214.5 1344.2 217.5 1346.5 225.0C1348.8 232.5 1344.6 230.2 1339.0 234.0C1333.4 237.8 1330.8 234.8 1324.0 240.0C1317.2 245.2 1318.8 247.5 1312.0 255.0C1305.2 262.5 1304.5 264.4 1297.0 270.0C1289.5 275.6 1288.0 276.8 1282.0 277.5C1276.0 278.2 1276.8 280.1 1273.0 273.0C1269.2 265.9 1269.6 261.0 1267.0 249.0C1264.4 237.0 1263.2 236.2 1262.5 225.0C1261.8 213.8 1262.9 212.2 1264.0 204.0C1265.1 195.8 1263.0 197.5 1267.0 192.0Z" fill="none" stroke="#b9cac7" stroke-width="3" opacity="0.7" filter="url(#bl2)"/>
<g fill="#74898a" opacity="0.75" filter="url(#bl2)"><ellipse cx="1290" cy="197" rx="5" ry="4"/><ellipse cx="1278" cy="216" rx="6" ry="6"/><ellipse cx="1300" cy="232" rx="7" ry="5"/><ellipse cx="1285" cy="252" rx="6" ry="5"/><ellipse cx="1308" cy="207" rx="4" ry="3"/><ellipse cx="1296" cy="212" rx="3" ry="3"/></g>
</g>
<rect x="1343.5" y="337.5" width="84" height="5.8" fill="#fff"/>
<text x="1350.4" y="330" font-family="'Liberation Sans', Arial, sans-serif" font-size="27.5" fill="#fff" textLength="63.5" lengthAdjust="spacingAndGlyphs">2 μm</text>
<rect x="1478" y="99" width="267.5" height="257" fill="#000"/>
<defs><filter id="eblur" x="-10%" y="-10%" width="120%" height="120%"><feGaussianBlur stdDeviation="0.7"/></filter></defs><g filter="url(#eblur)">
<path fill="#37a80f" d="M1557 232h3v3h-3zM1575 211h3v3h-3zM1575 214h3v3h-3zM1578 190h3v3h-3zM1578 199h3v3h-3zM1581 196h3v3h-3zM1581 205h3v3h-3zM1581 208h3v3h-3zM1584 232h3v3h-3zM1587 190h3v3h-3zM1587 241h3v3h-3zM1590 181h3v3h-3zM1593 184h3v3h-3zM1593 190h3v3h-3zM1593 199h3v3h-3zM1593 202h3v3h-3zM1596 253h3v3h-3zM1599 172h3v3h-3zM1602 178h3v3h-3zM1602 271h3v3h-3zM1605 253h3v3h-3zM1605 268h3v3h-3zM1608 181h3v3h-3zM1608 229h3v3h-3zM1611 232h3v3h-3zM1614 190h3v3h-3zM1614 211h3v3h-3zM1614 238h3v3h-3zM1614 244h3v3h-3zM1617 181h3v3h-3zM1617 247h3v3h-3zM1617 256h3v3h-3zM1620 178h3v3h-3zM1620 193h3v3h-3zM1623 181h3v3h-3zM1623 202h3v3h-3zM1623 229h3v3h-3zM1626 229h3v3h-3zM1626 232h3v3h-3zM1626 259h3v3h-3zM1632 184h3v3h-3zM1632 196h3v3h-3zM1635 214h3v3h-3zM1638 187h3v3h-3zM1638 220h3v3h-3zM1638 241h3v3h-3zM1638 244h3v3h-3zM1641 193h3v3h-3zM1641 202h3v3h-3zM1641 208h3v3h-3zM1644 214h3v3h-3zM1644 241h3v3h-3zM1647 202h3v3h-3zM1647 217h3v3h-3zM1650 217h3v3h-3zM1650 223h3v3h-3z"/>
<path fill="#2f900c" d="M1557 235h3v3h-3zM1563 229h3v3h-3zM1569 226h3v3h-3zM1572 214h3v3h-3zM1575 217h3v3h-3zM1575 220h3v3h-3zM1578 208h3v3h-3zM1578 211h3v3h-3zM1578 229h3v3h-3zM1578 235h3v3h-3zM1581 226h3v3h-3zM1590 187h3v3h-3zM1590 190h3v3h-3zM1590 244h3v3h-3zM1590 253h3v3h-3zM1590 262h3v3h-3zM1593 250h3v3h-3zM1596 175h3v3h-3zM1599 220h3v3h-3zM1599 223h3v3h-3zM1602 175h3v3h-3zM1605 163h3v3h-3zM1614 172h3v3h-3zM1617 199h3v3h-3zM1620 247h3v3h-3zM1620 250h3v3h-3zM1623 175h3v3h-3zM1623 226h3v3h-3zM1626 178h3v3h-3zM1626 250h3v3h-3zM1629 181h3v3h-3zM1629 223h3v3h-3zM1632 241h3v3h-3zM1635 223h3v3h-3zM1635 244h3v3h-3zM1638 178h3v3h-3zM1638 193h3v3h-3zM1638 196h3v3h-3zM1638 223h3v3h-3zM1638 235h3v3h-3zM1641 196h3v3h-3zM1641 226h3v3h-3zM1641 238h3v3h-3zM1644 217h3v3h-3zM1644 220h3v3h-3zM1647 214h3v3h-3zM1647 229h3v3h-3zM1647 235h3v3h-3z"/>
<path fill="#3fc011" d="M1560 235h3v3h-3zM1563 214h3v3h-3zM1563 235h3v3h-3zM1569 214h3v3h-3zM1572 220h3v3h-3zM1575 202h3v3h-3zM1575 208h3v3h-3zM1575 223h3v3h-3zM1575 226h3v3h-3zM1575 238h3v3h-3zM1578 205h3v3h-3zM1578 232h3v3h-3zM1581 175h3v3h-3zM1581 202h3v3h-3zM1581 241h3v3h-3zM1584 199h3v3h-3zM1584 223h3v3h-3zM1584 238h3v3h-3zM1587 193h3v3h-3zM1587 217h3v3h-3zM1587 247h3v3h-3zM1587 256h3v3h-3zM1590 169h3v3h-3zM1590 208h3v3h-3zM1593 187h3v3h-3zM1593 223h3v3h-3zM1593 229h3v3h-3zM1593 238h3v3h-3zM1596 181h3v3h-3zM1596 184h3v3h-3zM1596 250h3v3h-3zM1599 202h3v3h-3zM1602 181h3v3h-3zM1602 211h3v3h-3zM1602 247h3v3h-3zM1602 250h3v3h-3zM1605 175h3v3h-3zM1605 259h3v3h-3zM1605 262h3v3h-3zM1608 178h3v3h-3zM1608 193h3v3h-3zM1608 211h3v3h-3zM1608 247h3v3h-3zM1608 256h3v3h-3zM1617 169h3v3h-3zM1620 175h3v3h-3zM1620 190h3v3h-3zM1623 241h3v3h-3zM1626 181h3v3h-3zM1632 208h3v3h-3zM1632 238h3v3h-3zM1635 184h3v3h-3zM1635 238h3v3h-3zM1638 232h3v3h-3zM1638 247h3v3h-3zM1641 190h3v3h-3zM1641 199h3v3h-3zM1641 223h3v3h-3zM1644 208h3v3h-3zM1644 226h3v3h-3zM1644 229h3v3h-3zM1647 199h3v3h-3zM1647 205h3v3h-3zM1650 196h3v3h-3zM1650 208h3v3h-3zM1653 190h3v3h-3zM1656 223h3v3h-3z"/>
<path fill="#47d813" d="M1563 205h3v3h-3zM1575 229h3v3h-3zM1581 220h3v3h-3zM1581 232h3v3h-3zM1584 205h3v3h-3zM1584 208h3v3h-3zM1584 211h3v3h-3zM1584 229h3v3h-3zM1584 235h3v3h-3zM1587 184h3v3h-3zM1587 196h3v3h-3zM1587 211h3v3h-3zM1587 220h3v3h-3zM1587 223h3v3h-3zM1587 226h3v3h-3zM1587 235h3v3h-3zM1587 244h3v3h-3zM1590 184h3v3h-3zM1590 202h3v3h-3zM1590 232h3v3h-3zM1590 238h3v3h-3zM1593 178h3v3h-3zM1593 181h3v3h-3zM1593 211h3v3h-3zM1593 214h3v3h-3zM1593 220h3v3h-3zM1593 235h3v3h-3zM1593 241h3v3h-3zM1593 247h3v3h-3zM1596 199h3v3h-3zM1596 214h3v3h-3zM1596 238h3v3h-3zM1596 244h3v3h-3zM1596 256h3v3h-3zM1599 181h3v3h-3zM1599 184h3v3h-3zM1599 193h3v3h-3zM1599 196h3v3h-3zM1599 199h3v3h-3zM1599 208h3v3h-3zM1599 229h3v3h-3zM1599 238h3v3h-3zM1599 244h3v3h-3zM1599 253h3v3h-3zM1599 262h3v3h-3zM1602 184h3v3h-3zM1602 187h3v3h-3zM1602 190h3v3h-3zM1602 193h3v3h-3zM1602 196h3v3h-3zM1602 199h3v3h-3zM1602 202h3v3h-3zM1602 223h3v3h-3zM1602 235h3v3h-3zM1602 241h3v3h-3zM1602 244h3v3h-3zM1605 181h3v3h-3zM1605 184h3v3h-3zM1605 187h3v3h-3zM1605 190h3v3h-3zM1605 193h3v3h-3zM1605 199h3v3h-3zM1605 205h3v3h-3zM1605 211h3v3h-3zM1605 220h3v3h-3zM1605 226h3v3h-3zM1605 235h3v3h-3zM1605 238h3v3h-3zM1605 244h3v3h-3zM1605 256h3v3h-3zM1608 175h3v3h-3zM1608 190h3v3h-3zM1608 208h3v3h-3zM1608 217h3v3h-3zM1608 241h3v3h-3zM1608 244h3v3h-3zM1608 253h3v3h-3zM1611 187h3v3h-3zM1611 208h3v3h-3zM1611 214h3v3h-3zM1611 238h3v3h-3zM1611 247h3v3h-3zM1611 253h3v3h-3zM1614 184h3v3h-3zM1614 205h3v3h-3zM1614 214h3v3h-3zM1614 217h3v3h-3zM1614 220h3v3h-3zM1614 223h3v3h-3zM1614 235h3v3h-3zM1614 241h3v3h-3zM1614 250h3v3h-3zM1614 253h3v3h-3zM1617 187h3v3h-3zM1617 205h3v3h-3zM1617 211h3v3h-3zM1617 223h3v3h-3zM1617 226h3v3h-3zM1617 250h3v3h-3zM1620 184h3v3h-3zM1620 199h3v3h-3zM1620 211h3v3h-3zM1620 220h3v3h-3zM1620 223h3v3h-3zM1620 226h3v3h-3zM1620 241h3v3h-3zM1620 244h3v3h-3zM1623 184h3v3h-3zM1623 187h3v3h-3zM1623 190h3v3h-3zM1623 193h3v3h-3zM1623 238h3v3h-3zM1623 247h3v3h-3zM1623 259h3v3h-3zM1626 190h3v3h-3zM1626 193h3v3h-3zM1626 199h3v3h-3zM1626 202h3v3h-3zM1626 205h3v3h-3zM1626 208h3v3h-3zM1626 217h3v3h-3zM1626 223h3v3h-3zM1629 178h3v3h-3zM1629 184h3v3h-3zM1629 190h3v3h-3zM1629 202h3v3h-3zM1629 208h3v3h-3zM1629 217h3v3h-3zM1629 226h3v3h-3zM1629 244h3v3h-3zM1632 178h3v3h-3zM1632 199h3v3h-3zM1632 211h3v3h-3zM1632 226h3v3h-3zM1632 235h3v3h-3zM1632 244h3v3h-3zM1632 247h3v3h-3zM1632 250h3v3h-3zM1635 193h3v3h-3zM1635 196h3v3h-3zM1635 199h3v3h-3zM1635 202h3v3h-3zM1635 211h3v3h-3zM1635 229h3v3h-3zM1635 232h3v3h-3zM1635 235h3v3h-3zM1638 190h3v3h-3zM1641 205h3v3h-3zM1641 214h3v3h-3zM1641 232h3v3h-3zM1644 196h3v3h-3zM1644 205h3v3h-3zM1647 226h3v3h-3zM1656 217h3v3h-3z"/>
<path fill="#174806" d="M1566 220h3v3h-3zM1614 259h3v3h-3zM1647 196h3v3h-3zM1650 193h3v3h-3zM1659 229h3v3h-3z"/>
<path fill="#1f6008" d="M1566 232h3v3h-3zM1569 244h3v3h-3zM1572 205h3v3h-3zM1578 244h3v3h-3zM1593 262h3v3h-3zM1620 256h3v3h-3zM1623 235h3v3h-3zM1626 175h3v3h-3zM1626 226h3v3h-3zM1629 175h3v3h-3zM1629 220h3v3h-3zM1629 250h3v3h-3zM1635 220h3v3h-3zM1638 229h3v3h-3zM1641 178h3v3h-3zM1653 220h3v3h-3z"/>
<path fill="#4ff015" d="M1569 217h3v3h-3zM1572 217h3v3h-3zM1572 223h3v3h-3zM1578 202h3v3h-3zM1578 214h3v3h-3zM1578 217h3v3h-3zM1578 220h3v3h-3zM1578 223h3v3h-3zM1578 241h3v3h-3zM1581 211h3v3h-3zM1581 214h3v3h-3zM1581 217h3v3h-3zM1581 223h3v3h-3zM1581 229h3v3h-3zM1584 190h3v3h-3zM1584 193h3v3h-3zM1584 196h3v3h-3zM1584 202h3v3h-3zM1584 214h3v3h-3zM1584 217h3v3h-3zM1584 220h3v3h-3zM1584 226h3v3h-3zM1584 241h3v3h-3zM1587 199h3v3h-3zM1587 202h3v3h-3zM1587 205h3v3h-3zM1587 208h3v3h-3zM1587 214h3v3h-3zM1587 229h3v3h-3zM1587 238h3v3h-3zM1590 196h3v3h-3zM1590 199h3v3h-3zM1590 205h3v3h-3zM1590 211h3v3h-3zM1590 214h3v3h-3zM1590 223h3v3h-3zM1590 226h3v3h-3zM1590 229h3v3h-3zM1590 241h3v3h-3zM1593 196h3v3h-3zM1593 205h3v3h-3zM1593 208h3v3h-3zM1593 217h3v3h-3zM1593 226h3v3h-3zM1593 244h3v3h-3zM1596 178h3v3h-3zM1596 187h3v3h-3zM1596 193h3v3h-3zM1596 196h3v3h-3zM1596 202h3v3h-3zM1596 205h3v3h-3zM1596 208h3v3h-3zM1596 211h3v3h-3zM1596 220h3v3h-3zM1596 223h3v3h-3zM1596 226h3v3h-3zM1596 229h3v3h-3zM1596 232h3v3h-3zM1596 235h3v3h-3zM1596 241h3v3h-3zM1596 247h3v3h-3zM1599 187h3v3h-3zM1599 190h3v3h-3zM1599 211h3v3h-3zM1599 217h3v3h-3zM1599 226h3v3h-3zM1599 232h3v3h-3zM1599 235h3v3h-3zM1599 247h3v3h-3zM1599 250h3v3h-3zM1602 208h3v3h-3zM1602 214h3v3h-3zM1602 217h3v3h-3zM1602 220h3v3h-3zM1602 226h3v3h-3zM1602 229h3v3h-3zM1602 232h3v3h-3zM1602 238h3v3h-3zM1602 253h3v3h-3zM1605 178h3v3h-3zM1605 196h3v3h-3zM1605 202h3v3h-3zM1605 208h3v3h-3zM1605 214h3v3h-3zM1605 217h3v3h-3zM1605 223h3v3h-3zM1605 229h3v3h-3zM1605 232h3v3h-3zM1605 241h3v3h-3zM1605 247h3v3h-3zM1605 250h3v3h-3zM1608 184h3v3h-3zM1608 187h3v3h-3zM1608 196h3v3h-3zM1608 199h3v3h-3zM1608 202h3v3h-3zM1608 205h3v3h-3zM1608 214h3v3h-3zM1608 220h3v3h-3zM1608 226h3v3h-3zM1608 232h3v3h-3zM1608 235h3v3h-3zM1608 238h3v3h-3zM1608 250h3v3h-3zM1611 181h3v3h-3zM1611 184h3v3h-3zM1611 190h3v3h-3zM1611 193h3v3h-3zM1611 196h3v3h-3zM1611 199h3v3h-3zM1611 202h3v3h-3zM1611 205h3v3h-3zM1611 211h3v3h-3zM1611 220h3v3h-3zM1611 223h3v3h-3zM1611 226h3v3h-3zM1611 229h3v3h-3zM1611 235h3v3h-3zM1611 241h3v3h-3zM1611 250h3v3h-3zM1614 175h3v3h-3zM1614 181h3v3h-3zM1614 187h3v3h-3zM1614 193h3v3h-3zM1614 196h3v3h-3zM1614 199h3v3h-3zM1614 202h3v3h-3zM1614 208h3v3h-3zM1614 226h3v3h-3zM1614 229h3v3h-3zM1614 232h3v3h-3zM1614 247h3v3h-3zM1617 184h3v3h-3zM1617 190h3v3h-3zM1617 196h3v3h-3zM1617 202h3v3h-3zM1617 208h3v3h-3zM1617 214h3v3h-3zM1617 217h3v3h-3zM1617 220h3v3h-3zM1617 229h3v3h-3zM1617 238h3v3h-3zM1617 241h3v3h-3zM1617 244h3v3h-3zM1620 181h3v3h-3zM1620 187h3v3h-3zM1620 196h3v3h-3zM1620 202h3v3h-3zM1620 205h3v3h-3zM1620 208h3v3h-3zM1620 214h3v3h-3zM1620 217h3v3h-3zM1620 229h3v3h-3zM1620 232h3v3h-3zM1623 178h3v3h-3zM1623 196h3v3h-3zM1623 199h3v3h-3zM1623 205h3v3h-3zM1623 208h3v3h-3zM1623 211h3v3h-3zM1623 214h3v3h-3zM1623 220h3v3h-3zM1623 223h3v3h-3zM1626 184h3v3h-3zM1626 211h3v3h-3zM1626 214h3v3h-3zM1626 220h3v3h-3zM1626 235h3v3h-3zM1626 238h3v3h-3zM1626 244h3v3h-3zM1626 247h3v3h-3zM1629 187h3v3h-3zM1629 193h3v3h-3zM1629 199h3v3h-3zM1629 205h3v3h-3zM1629 211h3v3h-3zM1629 214h3v3h-3zM1629 232h3v3h-3zM1629 235h3v3h-3zM1629 238h3v3h-3zM1629 241h3v3h-3zM1632 187h3v3h-3zM1632 190h3v3h-3zM1632 193h3v3h-3zM1632 202h3v3h-3zM1632 205h3v3h-3zM1632 214h3v3h-3zM1632 217h3v3h-3zM1632 220h3v3h-3zM1632 223h3v3h-3zM1632 232h3v3h-3zM1635 208h3v3h-3zM1635 217h3v3h-3zM1638 199h3v3h-3zM1638 202h3v3h-3zM1638 205h3v3h-3zM1638 208h3v3h-3zM1638 211h3v3h-3zM1638 214h3v3h-3zM1638 217h3v3h-3zM1638 226h3v3h-3zM1641 211h3v3h-3zM1641 217h3v3h-3zM1641 235h3v3h-3zM1644 202h3v3h-3zM1644 223h3v3h-3zM1647 220h3v3h-3zM1647 223h3v3h-3zM1650 205h3v3h-3z"/>
<path fill="#27780a" d="M1572 208h3v3h-3zM1572 235h3v3h-3zM1575 193h3v3h-3zM1575 205h3v3h-3zM1575 232h3v3h-3zM1578 226h3v3h-3zM1581 247h3v3h-3zM1584 184h3v3h-3zM1584 187h3v3h-3zM1584 244h3v3h-3zM1584 247h3v3h-3zM1590 247h3v3h-3zM1611 178h3v3h-3zM1611 259h3v3h-3zM1614 178h3v3h-3zM1617 235h3v3h-3zM1620 235h3v3h-3zM1620 238h3v3h-3zM1623 232h3v3h-3zM1623 244h3v3h-3zM1626 241h3v3h-3zM1629 172h3v3h-3zM1629 229h3v3h-3zM1632 229h3v3h-3zM1635 178h3v3h-3zM1635 187h3v3h-3zM1635 190h3v3h-3zM1635 226h3v3h-3zM1644 199h3v3h-3zM1644 211h3v3h-3zM1644 238h3v3h-3zM1650 229h3v3h-3zM1650 232h3v3h-3zM1656 220h3v3h-3z"/>
<path fill="#54ff16" d="M1581 235h3v3h-3zM1587 232h3v3h-3zM1590 193h3v3h-3zM1590 217h3v3h-3zM1590 220h3v3h-3zM1590 235h3v3h-3zM1593 193h3v3h-3zM1593 232h3v3h-3zM1596 190h3v3h-3zM1596 217h3v3h-3zM1599 205h3v3h-3zM1599 214h3v3h-3zM1599 241h3v3h-3zM1602 205h3v3h-3zM1608 223h3v3h-3zM1611 175h3v3h-3zM1611 217h3v3h-3zM1611 244h3v3h-3zM1617 178h3v3h-3zM1617 193h3v3h-3zM1617 232h3v3h-3zM1623 217h3v3h-3zM1626 187h3v3h-3zM1626 196h3v3h-3zM1629 196h3v3h-3zM1635 205h3v3h-3zM1638 238h3v3h-3zM1641 220h3v3h-3zM1641 229h3v3h-3z"/>
</g>
<rect x="1620" y="355" width="125" height="1" fill="#5ad84a" opacity="0.7"/>
<path d="M120 776v-7.5M207.3 776v-7.5M294.7 776v-7.5M382 776v-7.5M469.3 776v-7.5M163.7 776v-4.5M251 776v-4.5M338.3 776v-4.5M425.7 776v-4.5M120 750.2h7.5M120 698.8h7.5M120 647.2h7.5M120 595.8h7.5M120 544.2h7.5M120 492.8h7.5M120 724.5h4.5M120 673h4.5M120 621.5h4.5M120 570h4.5M120 518.5h4.5" stroke="#262626" stroke-width="2.4" fill="none"/>
<rect x="120" y="467" width="393" height="309" fill="none" stroke="#262626" stroke-width="2.4"/>
<g font-family="'Liberation Sans', Arial, sans-serif" font-size="28" fill="#111" stroke="#111" stroke-width="0.4"><text x="120" y="804.3" text-anchor="middle">0</text><text x="207.3" y="804.3" text-anchor="middle">2</text><text x="294.7" y="804.3" text-anchor="middle">4</text><text x="382" y="804.3" text-anchor="middle">6</text><text x="469.3" y="804.3" text-anchor="middle">8</text><text x="112.5" y="758.8" text-anchor="end">0.0</text><text x="112.5" y="707.2" text-anchor="end">0.2</text><text x="112.5" y="655.8" text-anchor="end">0.4</text><text x="112.5" y="604.2" text-anchor="end">0.6</text><text x="112.5" y="552.8" text-anchor="end">0.8</text><text x="112.5" y="501.2" text-anchor="end">1.0</text></g>
<g>
<path d="M390.7 558.4 391.2 557.6 391.8 556.6 392.5 555.4 393.3 554 394.2 552.5 395.2 551 396.2 549.5 397.3 548.1 398.4 546.7 399.7 545.3 401.1 543.8 402.5 542.3 403.9 540.8 405.4 539.3 406.8 537.9 408.2 536.5 409.6 535.2 410.9 533.9 412.3 532.7 413.7 531.5 415 530.3 416.4 529.1 417.8 527.9 419.1 526.7 420.6 525.5 422.1 524.1 423.7 522.7 425.3 521.4 426.7 520.1 428.1 518.9 429.2 517.9 430 517.2" fill="none" stroke="#2a2a80" stroke-width="2.9" stroke-linejoin="round" stroke-linecap="round" />
<g fill="#000"><circle cx="233.5" cy="735.7" r="5.1"/><circle cx="235.3" cy="740.3" r="5.1"/><circle cx="237" cy="739" r="5.1"/><circle cx="238.8" cy="737.8" r="5.1"/><circle cx="240.5" cy="737.4" r="5.1"/><circle cx="242.3" cy="739.7" r="5.1"/><circle cx="244" cy="732" r="5.1"/><circle cx="245.8" cy="730.3" r="5.1"/><circle cx="247.5" cy="735.6" r="5.1"/><circle cx="249.3" cy="735.2" r="5.1"/><circle cx="251" cy="739.1" r="5.1"/><circle cx="252.7" cy="738.7" r="5.1"/><circle cx="254.5" cy="736" r="5.1"/><circle cx="256.2" cy="736.6" r="5.1"/><circle cx="258" cy="730.6" r="5.1"/><circle cx="259.7" cy="737.3" r="5.1"/><circle cx="261.5" cy="738.5" r="5.1"/><circle cx="263.2" cy="728.7" r="5.1"/><circle cx="265" cy="732.9" r="5.1"/><circle cx="266.7" cy="736.6" r="5.1"/><circle cx="268.5" cy="732.3" r="5.1"/><circle cx="270.2" cy="737.4" r="5.1"/><circle cx="272" cy="732" r="5.1"/><circle cx="273.7" cy="727.2" r="5.1"/><circle cx="275.5" cy="728.2" r="5.1"/><circle cx="277.2" cy="729.7" r="5.1"/><circle cx="278.9" cy="734" r="5.1"/><circle cx="280.7" cy="732.7" r="5.1"/><circle cx="282.4" cy="734.5" r="5.1"/><circle cx="284.2" cy="728.1" r="5.1"/><circle cx="285.9" cy="730.3" r="5.1"/><circle cx="287.7" cy="727.6" r="5.1"/><circle cx="289.4" cy="732" r="5.1"/><circle cx="291.2" cy="732.9" r="5.1"/><circle cx="292.9" cy="726.6" r="5.1"/><circle cx="294.7" cy="724.7" r="5.1"/><circle cx="296.4" cy="725.8" r="5.1"/><circle cx="298.2" cy="726.1" r="5.1"/><circle cx="299.9" cy="725.8" r="5.1"/><circle cx="301.7" cy="726.4" r="5.1"/><circle cx="303.4" cy="731.4" r="5.1"/><circle cx="305.1" cy="728.2" r="5.1"/><circle cx="306.9" cy="729.7" r="5.1"/><circle cx="308.6" cy="732.9" r="5.1"/><circle cx="310.4" cy="732.7" r="5.1"/><circle cx="312.1" cy="729.9" r="5.1"/><circle cx="313.9" cy="729.9" r="5.1"/><circle cx="315.6" cy="725.2" r="5.1"/><circle cx="317.4" cy="722.3" r="5.1"/><circle cx="319.1" cy="727.3" r="5.1"/><circle cx="320.9" cy="722.1" r="5.1"/><circle cx="322.6" cy="721.3" r="5.1"/><circle cx="324.4" cy="721.5" r="5.1"/><circle cx="326.1" cy="727.3" r="5.1"/><circle cx="327.9" cy="728.6" r="5.1"/><circle cx="329.6" cy="728.3" r="5.1"/><circle cx="331.3" cy="728.4" r="5.1"/><circle cx="333.1" cy="728.2" r="5.1"/><circle cx="334.8" cy="723.6" r="5.1"/><circle cx="336.6" cy="720.6" r="5.1"/><circle cx="338.3" cy="721" r="5.1"/><circle cx="340.1" cy="724.5" r="5.1"/><circle cx="341.8" cy="722.5" r="5.1"/><circle cx="343.6" cy="720.8" r="5.1"/><circle cx="345.3" cy="728" r="5.1"/><circle cx="347.1" cy="721.8" r="5.1"/><circle cx="348.8" cy="719" r="5.1"/><circle cx="350.6" cy="720.2" r="5.1"/><circle cx="352.3" cy="720.3" r="5.1"/><circle cx="354.1" cy="722.9" r="5.1"/><circle cx="355.8" cy="725.8" r="5.1"/><circle cx="357.5" cy="719.3" r="5.1"/><circle cx="359.3" cy="723.8" r="5.1"/><circle cx="361" cy="718.7" r="5.1"/><circle cx="362.8" cy="716.8" r="5.1"/><circle cx="364.5" cy="722.5" r="5.1"/><circle cx="366.3" cy="722.2" r="5.1"/><circle cx="368" cy="716.4" r="5.1"/><circle cx="369.8" cy="718.5" r="5.1"/><circle cx="271.1" cy="722.2" r="5.1"/><circle cx="329.2" cy="732.5" r="5.1"/><circle cx="356.2" cy="713.7" r="5.1"/><circle cx="361" cy="717.5" r="5.1"/><circle cx="367.6" cy="725" r="5.1"/><circle cx="372.4" cy="722.2" r="5.1"/><circle cx="369.8" cy="722.2" r="5.1"/><circle cx="375.9" cy="701.3" r="5.1"/><circle cx="379.4" cy="655.7" r="5.1"/><circle cx="384.2" cy="607.9" r="5.1"/><circle cx="387.7" cy="575.9" r="5.1"/><circle cx="392" cy="555.6" r="5.1"/><circle cx="402.5" cy="552.2" r="5.1"/><circle cx="413" cy="521.1" r="5.1"/><circle cx="418.2" cy="517.2" r="5.1"/><circle cx="429.6" cy="531.9" r="5.1"/><circle cx="434" cy="518" r="5.1"/><circle cx="447.1" cy="505.6" r="5.1"/><circle cx="452.3" cy="510.8" r="5.1"/><circle cx="456.7" cy="510" r="5.1"/><circle cx="461.9" cy="509.2" r="5.1"/><circle cx="465.4" cy="520.6" r="5.1"/><circle cx="468" cy="524.9" r="5.1"/><circle cx="471.5" cy="509.2" r="5.1"/><circle cx="475.9" cy="491.7" r="5.1"/><circle cx="481.1" cy="492.8" r="5.1"/><circle cx="487.2" cy="492.8" r="5.1"/><circle cx="492.9" cy="498.7" r="5.1"/><circle cx="496.4" cy="506.7" r="5.1"/><circle cx="500.8" cy="511.8" r="5.1"/><circle cx="504.3" cy="516.2" r="5.1"/><circle cx="507.8" cy="522.4" r="5.1"/><circle cx="511.3" cy="526.7" r="5.1"/><circle cx="397.3" cy="544.2" r="5.1"/><circle cx="408.2" cy="528.8" r="5.1"/><circle cx="423.5" cy="518.5" r="5.1"/><circle cx="438.8" cy="510.8" r="5.1"/></g>
<path fill="#ff6600" d="M115.6 732.3h8.8v8.8h-8.8zM116.7 736.4h8.8v8.8h-8.8zM117.8 727.3h8.8v8.8h-8.8zM118.9 737.3h8.8v8.8h-8.8zM120 729.1h8.8v8.8h-8.8zM121.1 733.9h8.8v8.8h-8.8zM122.1 736.5h8.8v8.8h-8.8zM123.2 732.2h8.8v8.8h-8.8zM124.3 736.8h8.8v8.8h-8.8zM125.4 733.1h8.8v8.8h-8.8zM126.5 736.3h8.8v8.8h-8.8zM127.6 737.1h8.8v8.8h-8.8zM128.7 730.8h8.8v8.8h-8.8zM129.8 728.5h8.8v8.8h-8.8zM130.9 735.4h8.8v8.8h-8.8zM132 735.5h8.8v8.8h-8.8zM133.1 727.7h8.8v8.8h-8.8zM134.2 727.1h8.8v8.8h-8.8zM135.2 728.4h8.8v8.8h-8.8zM136.3 733.5h8.8v8.8h-8.8zM137.4 722.3h8.8v8.8h-8.8zM138.5 737.6h8.8v8.8h-8.8zM139.6 724.1h8.8v8.8h-8.8zM140.7 734.8h8.8v8.8h-8.8zM141.8 735.1h8.8v8.8h-8.8zM142.9 736.8h8.8v8.8h-8.8zM144 732.6h8.8v8.8h-8.8zM145.1 728.7h8.8v8.8h-8.8zM146.2 734.6h8.8v8.8h-8.8zM147.3 731.4h8.8v8.8h-8.8zM148.3 727.5h8.8v8.8h-8.8zM149.4 733.8h8.8v8.8h-8.8zM150.5 728.9h8.8v8.8h-8.8zM151.6 737.4h8.8v8.8h-8.8zM152.7 736.4h8.8v8.8h-8.8zM153.8 735.7h8.8v8.8h-8.8zM154.9 726.8h8.8v8.8h-8.8zM156 733.2h8.8v8.8h-8.8zM157.1 732.5h8.8v8.8h-8.8zM158.2 731.3h8.8v8.8h-8.8zM159.3 730.4h8.8v8.8h-8.8zM160.4 734.7h8.8v8.8h-8.8zM161.5 725.1h8.8v8.8h-8.8zM162.5 730h8.8v8.8h-8.8zM163.6 733.6h8.8v8.8h-8.8zM164.7 731.5h8.8v8.8h-8.8zM165.8 729.2h8.8v8.8h-8.8zM166.9 728h8.8v8.8h-8.8zM168 726.1h8.8v8.8h-8.8zM169.1 734.8h8.8v8.8h-8.8zM170.2 722.2h8.8v8.8h-8.8zM171.3 736.8h8.8v8.8h-8.8zM172.4 730.9h8.8v8.8h-8.8zM173.5 729.4h8.8v8.8h-8.8zM174.6 735h8.8v8.8h-8.8zM175.6 732.5h8.8v8.8h-8.8zM176.7 736.7h8.8v8.8h-8.8zM177.8 730.4h8.8v8.8h-8.8zM178.9 725.5h8.8v8.8h-8.8zM180 731.5h8.8v8.8h-8.8zM181.1 723.8h8.8v8.8h-8.8zM182.2 734.5h8.8v8.8h-8.8zM183.3 726.6h8.8v8.8h-8.8zM184.4 731.2h8.8v8.8h-8.8zM185.5 728.4h8.8v8.8h-8.8zM186.6 732.8h8.8v8.8h-8.8zM187.7 724.4h8.8v8.8h-8.8zM188.7 727.2h8.8v8.8h-8.8zM189.8 730h8.8v8.8h-8.8zM190.9 730.4h8.8v8.8h-8.8zM192 736.4h8.8v8.8h-8.8zM193.1 730h8.8v8.8h-8.8zM194.2 727.4h8.8v8.8h-8.8zM195.3 726.6h8.8v8.8h-8.8zM196.4 724.7h8.8v8.8h-8.8zM197.5 734.8h8.8v8.8h-8.8zM198.6 731.4h8.8v8.8h-8.8zM199.7 730.4h8.8v8.8h-8.8zM200.8 737h8.8v8.8h-8.8zM201.8 732.8h8.8v8.8h-8.8zM202.9 734.8h8.8v8.8h-8.8zM204 736.8h8.8v8.8h-8.8zM205.1 736.4h8.8v8.8h-8.8zM206.2 729.2h8.8v8.8h-8.8zM207.3 735.4h8.8v8.8h-8.8zM208.4 735.3h8.8v8.8h-8.8zM209.5 731.3h8.8v8.8h-8.8zM210.6 728h8.8v8.8h-8.8zM211.7 736.1h8.8v8.8h-8.8zM212.8 732.9h8.8v8.8h-8.8zM213.8 728.9h8.8v8.8h-8.8zM214.9 727.9h8.8v8.8h-8.8zM216 724.7h8.8v8.8h-8.8zM217.1 728.1h8.8v8.8h-8.8zM218.2 733.1h8.8v8.8h-8.8zM219.3 733.3h8.8v8.8h-8.8zM220.4 731.8h8.8v8.8h-8.8zM221.5 727.9h8.8v8.8h-8.8zM222.6 722.6h8.8v8.8h-8.8zM223.7 736.4h8.8v8.8h-8.8zM224.8 734.6h8.8v8.8h-8.8zM225.9 735.4h8.8v8.8h-8.8zM226.9 732.8h8.8v8.8h-8.8zM228 731.6h8.8v8.8h-8.8zM229.1 726.4h8.8v8.8h-8.8zM230.2 733.3h8.8v8.8h-8.8zM231.3 734.6h8.8v8.8h-8.8zM232.4 730.6h8.8v8.8h-8.8zM233.5 728h8.8v8.8h-8.8zM234.6 728h8.8v8.8h-8.8zM235.7 718.1h8.8v8.8h-8.8zM236.8 725.6h8.8v8.8h-8.8zM237.9 724h8.8v8.8h-8.8zM239 725.6h8.8v8.8h-8.8zM240 720.6h8.8v8.8h-8.8zM241.1 731.2h8.8v8.8h-8.8zM242.2 716.2h8.8v8.8h-8.8zM243.3 721.9h8.8v8.8h-8.8zM244.4 715.7h8.8v8.8h-8.8zM245.5 720.8h8.8v8.8h-8.8zM246.6 722.3h8.8v8.8h-8.8zM247.7 724.5h8.8v8.8h-8.8zM248.8 725.8h8.8v8.8h-8.8zM249.9 720.9h8.8v8.8h-8.8zM251 725.6h8.8v8.8h-8.8zM252.1 726.5h8.8v8.8h-8.8zM253.1 722.4h8.8v8.8h-8.8zM254.2 724.5h8.8v8.8h-8.8zM255.3 719.5h8.8v8.8h-8.8zM256.4 724.9h8.8v8.8h-8.8zM257.5 723.8h8.8v8.8h-8.8zM258.6 722.9h8.8v8.8h-8.8zM259.7 721.4h8.8v8.8h-8.8zM260.8 719.5h8.8v8.8h-8.8zM261.9 721.6h8.8v8.8h-8.8zM263 712.7h8.8v8.8h-8.8zM126.5 743.8h8.8v8.8h-8.8zM147 744.8h8.8v8.8h-8.8zM172.4 743.8h8.8v8.8h-8.8zM117.8 740.7h8.8v8.8h-8.8zM262.8 709.8h8.8v8.8h-8.8zM276.7 714.4h8.8v8.8h-8.8zM279.4 706.2h8.8v8.8h-8.8zM285 695.6h8.8v8.8h-8.8zM294.2 702.8h8.8v8.8h-8.8zM297.7 668.6h8.8v8.8h-8.8zM303.8 669.9h8.8v8.8h-8.8zM307.3 682.8h8.8v8.8h-8.8zM313 687.4h8.8v8.8h-8.8zM320 693.3h8.8v8.8h-8.8zM326.1 674.8h8.8v8.8h-8.8zM329.6 694.4h8.8v8.8h-8.8zM333.1 668.6h8.8v8.8h-8.8zM338.7 680.4h8.8v8.8h-8.8zM342.2 684.1h8.8v8.8h-8.8zM347.9 674.8h8.8v8.8h-8.8zM351.4 664.2h8.8v8.8h-8.8zM354.9 655.7h8.8v8.8h-8.8zM358.4 627.9h8.8v8.8h-8.8zM359.3 606.8h8.8v8.8h-8.8zM361 609.4h8.8v8.8h-8.8zM362.8 596.5h8.8v8.8h-8.8zM364.5 597.5h8.8v8.8h-8.8zM364.9 586.2h8.8v8.8h-8.8zM366.7 586.2h8.8v8.8h-8.8zM371.5 617.1h8.8v8.8h-8.8zM373.7 591.4h8.8v8.8h-8.8zM375 591.4h8.8v8.8h-8.8zM377.2 597.5h8.8v8.8h-8.8zM380.7 543.5h8.8v8.8h-8.8zM382.4 563.5h8.8v8.8h-8.8zM382.8 563h8.8v8.8h-8.8zM391.1 559.2h8.8v8.8h-8.8zM391.1 558.4h8.8v8.8h-8.8zM393.8 509.2h8.8v8.8h-8.8zM396.4 546h8.8v8.8h-8.8zM402.5 537.3h8.8v8.8h-8.8zM406.9 491.7h8.8v8.8h-8.8zM412.1 526.7h8.8v8.8h-8.8zM415.6 539.1h8.8v8.8h-8.8zM422.6 521.3h8.8v8.8h-8.8zM425.2 500.5h8.8v8.8h-8.8zM427.8 487.3h8.8v8.8h-8.8zM433.1 493.5h8.8v8.8h-8.8zM434.8 504.8h8.8v8.8h-8.8zM438.3 488.9h8.8v8.8h-8.8zM440.9 521.3h8.8v8.8h-8.8zM445.3 542.4h8.8v8.8h-8.8zM447.9 544.2h8.8v8.8h-8.8zM266.2 720.1h8.8v8.8h-8.8zM270.6 715h8.8v8.8h-8.8zM273.7 722.7h8.8v8.8h-8.8zM290.3 709.8h8.8v8.8h-8.8zM301.2 694.4h8.8v8.8h-8.8zM316.5 681.5h8.8v8.8h-8.8zM336.1 678.9h8.8v8.8h-8.8zM344.9 668.6h8.8v8.8h-8.8zM355.8 642.9h8.8v8.8h-8.8z"/>
<path d="M122.2 741.2 124 741.4 126.3 741.6 129.1 741.8 132.3 742.1 135.7 742.3 139.2 742.6 142.7 742.8 146.2 743 149.7 743.2 153.4 743.4 157.2 743.5 161.1 743.6 165 743.8 169 743.9 172.9 744 176.8 744.1 180.6 744.2 184.6 744.3 188.6 744.3 192.6 744.4 196.5 744.5 200.3 744.5 203.9 744.6 207.3 744.6 210.5 744.6 213.4 744.6 216.2 744.6 218.8 744.6 221.4 744.5 223.9 744.4 226.5 744.3 229.2 744.1 231.9 743.8 234.7 743.5 237.5 743.1 240.4 742.7 243.1 742.2 245.8 741.7 248.5 741.2 251 740.7 253.4 740.2 255.7 739.8 257.9 739.3 260 738.8 262.1 738.2 264.2 737.6 266.3 736.9 268.5 736.1 270.6 735.2 272.8 734.4 274.9 733.4 277.1 732.4 279.3 731.3 281.4 730.1 283.7 728.7 285.9 727.1 288.3 725.2 290.7 723.1 293.2 720.9 295.6 718.5 298.1 716 300.5 713.6 302.9 711.2 305.1 709 307.3 707 309.3 705.1 311.3 703.2 313.3 701.3 315.2 699.5 317 697.6 318.9 695.6 320.9 693.6 322.8 691.5 324.8 689.2 326.8 686.9 328.8 684.6 330.8 682.3 332.6 680 334.5 677.7 336.1 675.6 337.7 673.6 339.2 671.7 340.5 669.9 341.9 668.2 343.1 666.4 344.4 664.5 345.7 662.4 347.1 660.1 348.5 657.6 349.9 655 351.4 652.2 352.9 649.3 354.4 646.4 355.8 643.3 357.1 640.1 358.4 637 359.6 633.6 360.8 630.2 361.8 626.6 362.9 622.9 363.9 619.3 364.8 615.6 365.8 612.1 366.7 608.6 367.6 605.2 368.5 601.8 369.3 598.4 370.2 595.1 371 591.9 371.7 588.7 372.5 585.7 373.3 582.9 374 580.2 374.8 577.7 375.5 575.3 376.2 573 376.9 570.8 377.6 568.7 378.3 566.7 378.9 564.9 379.6 563.1 380.2 561.5 380.8 560 381.4 558.7 382 557.3 382.6 556 383.4 554.7 384.2 553.3 385.1 551.8 386.1 550.3 387.1 548.8 388.2 547.4 389.3 545.9 390.5 544.4 391.7 543 392.9 541.7 394.2 540.4 395.4 539.1 396.8 537.8 398.1 536.6 399.5 535.4 400.9 534.2 402.3 533 403.8 531.9 405.4 530.8 406.9 529.7 408.5 528.7 410.1 527.6 411.8 526.6 413.5 525.6 415.2 524.6 416.9 523.7 418.8 522.6 421 521.5 423.2 520.4 425.4 519.3 427.5 518.2 429.4 517.3 431 516.5 432.2 515.9" fill="none" stroke="#fb7f2e" stroke-width="5.2" stroke-linejoin="round" stroke-linecap="round" />
<path d="M122.2 748.2 125.4 748.1 129.6 747.9 134.6 747.7 140.2 747.5 146.1 747.3 152.2 747.1 158.1 746.9 163.7 746.6 169.2 746.4 174.9 746.2 180.8 745.9 186.7 745.6 192.4 745.4 197.8 745.1 202.9 744.8 207.3 744.6 211.1 744.4 214.3 744.2 217.1 744 219.6 743.8 221.9 743.6 224.4 743.3 227 743.1 230 742.8 233.4 742.4 237 742 240.8 741.6 244.6 741.2 248.5 740.7 252.4 740.3 256.1 739.9 259.7 739.4 263.2 739 266.6 738.6 270 738.3 273.3 737.9 276.6 737.5 279.8 737.1 283.1 736.7 286.4 736.3 289.7 736 293 735.6 296.3 735.2 299.6 734.8 302.9 734.4 306.1 734 309.1 733.6 312.1 733.3 315 732.9 317.8 732.6 320.5 732.3 323.1 732 325.6 731.7 328.2 731.4 330.6 731 333.1 730.7 335.5 730.3 338 729.9 340.4 729.4 342.8 729 345.1 728.5 347.3 728 349.4 727.5 351.4 727.1 353.4 726.6 355.2 726.1 356.9 725.6 358.6 725.1 360.2 724.6 361.7 724.1 363.1 723.7 364.5 723.2 365.9 722.7 367.2 722.3 368.5 721.8 369.7 721.3 370.8 720.9 371.8 720.5 372.6 720.1 373.3 719.9" fill="none" stroke="#1d4fc6" stroke-width="2.9" stroke-linejoin="round" stroke-linecap="round" />
<path d="M373.3 719.9 376.3 680.7 382.4 618.9 390.7 558.4" fill="none" stroke="#1d4fc6" stroke-width="2.9" stroke-linejoin="round" stroke-linecap="round" />
</g>
<text transform="translate(60.4 623) rotate(-90)" text-anchor="middle" font-family="'Liberation Sans', Arial, sans-serif" font-size="28" fill="#111" stroke="#111" stroke-width="0.4" textLength="330" lengthAdjust="spacingAndGlyphs">EDS intensity (Normalized)</text>
<text x="316.8" y="834.9" font-family="'Liberation Sans', Arial, sans-serif" font-size="28" fill="#111" stroke="#111" stroke-width="0.4" text-anchor="middle" >Position (μm)</text>
<text x="146" y="524" font-family="'Liberation Sans', Arial, sans-serif" font-size="28" fill="#111" stroke="#111" stroke-width="0.4" text-anchor="start" textLength="243" lengthAdjust="spacingAndGlyphs">Polycrystalline Film</text>
<text x="198" y="557.9" font-family="'Liberation Sans', Arial, sans-serif" font-size="28" fill="#111" stroke="#111" stroke-width="0.4" text-anchor="start" >Dark</text>
<text x="198" y="587.5" font-family="'Liberation Sans', Arial, sans-serif" font-size="28" fill="#111" stroke="#111" stroke-width="0.4" text-anchor="start" >Illumination</text>
<circle cx="152.8" cy="547.9" r="5.2" fill="#000"/><rect x="148.2" y="572.6" width="9.6" height="9.4" fill="#ff6600"/>
<path d="M726 780.3v-7.5M806.8 780.3v-7.5M887.6 780.3v-7.5M968.4 780.3v-7.5M1049.2 780.3v-7.5M1130 780.3v-7.5M766.4 780.3v-4.5M847.2 780.3v-4.5M928 780.3v-4.5M1008.8 780.3v-4.5M1089.6 780.3v-4.5M726 754h7.5M726 701.3h7.5M726 648.7h7.5M726 596.1h7.5M726 543.5h7.5M726 490.8h7.5M726 727.7h4.5M726 675h4.5M726 622.4h4.5M726 569.8h4.5M726 517.1h4.5" stroke="#262626" stroke-width="2.4" fill="none"/>
<rect x="726" y="464.5" width="404" height="315.8" fill="none" stroke="#262626" stroke-width="2.4"/>
<g font-family="'Liberation Sans', Arial, sans-serif" font-size="28" fill="#111" stroke="#111" stroke-width="0.4"><text x="726" y="809" text-anchor="middle">0</text><text x="806.8" y="809" text-anchor="middle">1</text><text x="887.6" y="809" text-anchor="middle">2</text><text x="968.4" y="809" text-anchor="middle">3</text><text x="1049.2" y="809" text-anchor="middle">4</text><text x="1130" y="809" text-anchor="middle">5</text><text x="718.5" y="762.5" text-anchor="end">0.0</text><text x="718.5" y="709.8" text-anchor="end">0.2</text><text x="718.5" y="657.2" text-anchor="end">0.4</text><text x="718.5" y="604.6" text-anchor="end">0.6</text><text x="718.5" y="552" text-anchor="end">0.8</text><text x="718.5" y="499.3" text-anchor="end">1.0</text></g>
<g fill="#000"><circle cx="731.2" cy="711.1" r="5.3"/><circle cx="738.1" cy="727.9" r="5.3"/><circle cx="743.8" cy="741.4" r="5.3"/><circle cx="755.1" cy="749" r="5.3"/><circle cx="766.4" cy="740" r="5.3"/><circle cx="772.9" cy="739.2" r="5.3"/><circle cx="781.8" cy="743.5" r="5.3"/><circle cx="795.5" cy="740" r="5.3"/><circle cx="808.4" cy="751.1" r="5.3"/><circle cx="816.5" cy="740" r="5.3"/><circle cx="831.8" cy="737.1" r="5.3"/><circle cx="837.5" cy="737.1" r="5.3"/><circle cx="845.6" cy="735.8" r="5.3"/><circle cx="852.9" cy="739.2" r="5.3"/><circle cx="860.1" cy="743.5" r="5.3"/><circle cx="879.5" cy="746.4" r="5.3"/><circle cx="886.8" cy="737.9" r="5.3"/><circle cx="893.3" cy="735" r="5.3"/><circle cx="899.7" cy="725.8" r="5.3"/><circle cx="906.2" cy="740.6" r="5.3"/><circle cx="916.7" cy="701.3" r="5.3"/><circle cx="928.8" cy="695.6" r="5.3"/><circle cx="936.1" cy="663.5" r="5.3"/><circle cx="943.4" cy="632.7" r="5.3"/><circle cx="957.9" cy="612.1" r="5.3"/><circle cx="969.2" cy="594.5" r="5.3"/><circle cx="965.2" cy="564" r="5.3"/><circle cx="976.5" cy="547.7" r="5.3"/><circle cx="983.8" cy="544.8" r="5.3"/><circle cx="990.2" cy="561.1" r="5.3"/><circle cx="1008.8" cy="584.2" r="5.3"/><circle cx="995.9" cy="521.6" r="5.3"/><circle cx="1003.1" cy="522.9" r="5.3"/><circle cx="1016.1" cy="489.2" r="5.3"/><circle cx="1021.7" cy="514.2" r="5.3"/><circle cx="1027.4" cy="530.3" r="5.3"/><circle cx="1034.7" cy="521.3" r="5.3"/><circle cx="1041.1" cy="491.6" r="5.3"/><circle cx="1047.6" cy="546.3" r="5.3"/><circle cx="1054" cy="496.9" r="5.3"/><circle cx="1060.5" cy="523.4" r="5.3"/><circle cx="1067" cy="539.5" r="5.3"/><circle cx="1074.2" cy="537.1" r="5.3"/><circle cx="1079.9" cy="502.1" r="5.3"/><circle cx="1087.2" cy="520.6" r="5.3"/><circle cx="1092.8" cy="529" r="5.3"/><circle cx="1102.5" cy="544.8" r="5.3"/><circle cx="1112.2" cy="531.9" r="5.3"/><circle cx="750.2" cy="740.8" r="5.3"/><circle cx="789" cy="738.2" r="5.3"/><circle cx="823" cy="738.2" r="5.3"/><circle cx="867.4" cy="738.2" r="5.3"/><circle cx="802.8" cy="735.6" r="5.3"/><circle cx="855.3" cy="740.8" r="5.3"/><circle cx="911.8" cy="732.9" r="5.3"/><circle cx="759.9" cy="743.5" r="5.3"/></g>
<path fill="#ff6600" d="M728.1 721.4h8.8v8.8h-8.8zM724 735.6h8.8v8.8h-8.8zM733.7 726.4h8.8v8.8h-8.8zM739.4 745.4h8.8v8.8h-8.8zM745 729.3h8.8v8.8h-8.8zM751.9 740.4h8.8v8.8h-8.8zM757.2 746.2h8.8v8.8h-8.8zM762.8 742h8.8v8.8h-8.8zM768.5 727.7h8.8v8.8h-8.8zM779.8 739.1h8.8v8.8h-8.8zM792.7 719.3h8.8v8.8h-8.8zM809.7 719.3h8.8v8.8h-8.8zM815.3 743.3h8.8v8.8h-8.8zM821.8 737.7h8.8v8.8h-8.8zM827.4 736.2h8.8v8.8h-8.8zM834.7 737.7h8.8v8.8h-8.8zM840.4 736.2h8.8v8.8h-8.8zM845.2 720.9h8.8v8.8h-8.8zM856.5 736.2h8.8v8.8h-8.8zM866.2 734.8h8.8v8.8h-8.8zM873.5 734.8h8.8v8.8h-8.8zM886.4 718h8.8v8.8h-8.8zM891.3 736.2h8.8v8.8h-8.8zM897.7 708.3h8.8v8.8h-8.8zM904.2 719.3h8.8v8.8h-8.8zM913.1 734.8h8.8v8.8h-8.8zM897.7 707.2h8.8v8.8h-8.8zM921.2 704.3h8.8v8.8h-8.8zM926.8 705.9h8.8v8.8h-8.8zM931.7 666.4h8.8v8.8h-8.8zM939 657.5h8.8v8.8h-8.8zM944.6 593.3h8.8v8.8h-8.8zM948.6 562.5h8.8v8.8h-8.8zM955.9 506.9h8.8v8.8h-8.8zM963.6 515.6h8.8v8.8h-8.8zM969.7 514h8.8v8.8h-8.8zM973.7 500.9h8.8v8.8h-8.8zM979.4 496.4h8.8v8.8h-8.8zM985.8 490.6h8.8v8.8h-8.8zM991.5 484.8h8.8v8.8h-8.8zM997.1 515.6h8.8v8.8h-8.8zM1002.8 502.5h8.8v8.8h-8.8zM1008.4 498h8.8v8.8h-8.8zM1014.9 493.5h8.8v8.8h-8.8zM1022.2 503.8h8.8v8.8h-8.8zM1026.2 534.6h8.8v8.8h-8.8zM1031.9 539.1h8.8v8.8h-8.8zM1037.5 500.9h8.8v8.8h-8.8zM1044 539.1h8.8v8.8h-8.8zM1039.1 502.5h8.8v8.8h-8.8zM1032.7 539.1h8.8v8.8h-8.8zM1068.2 523.8h8.8v8.8h-8.8zM1085.2 525.1h8.8v8.8h-8.8zM1091.7 512.2h8.8v8.8h-8.8zM1097.3 541.2h8.8v8.8h-8.8zM1027 535.1h8.8v8.8h-8.8z"/>
<path d="M726 735.6 729.7 735.5 734.7 735.3 740.6 735.2 747.2 735 754.2 734.8 761.2 734.6 768.1 734.4 774.5 734.2 780.5 734.1 786.6 733.9 792.7 733.8 798.7 733.6 804.8 733.4 810.8 733.3 816.9 733.1 823 732.9 829.1 732.8 835.3 732.6 841.5 732.4 847.7 732.3 853.9 732.1 859.9 731.9 865.8 731.8 871.4 731.6 877.1 731.5 882.8 731.3 888.4 731.2 893.9 731 899.1 730.9 903.9 730.7 908.2 730.5 911.8 730.3 914.7 730.1 917 729.9 918.6 729.8 919.9 729.6 921 729.3 921.9 728.9 922.8 728.4 924 727.7 925.2 726.9 926.3 726.1 927.4 725.3 928.4 724.4 929.3 723.2 930.2 721.6 931.1 719.6 932 717.1 932.9 714.1 933.8 710.6 934.6 706.7 935.4 702.5 936.2 698 937 693.1 937.7 688.1 938.5 682.9 939.2 677.4 940 671.4 940.6 665 941.3 658.4 942 651.8 942.7 645.2 943.4 638.9 944.2 632.9 944.9 627.2 945.7 621.7 946.5 616.3 947.2 611.1 948 605.9 948.9 600.8 949.7 595.8 950.6 590.8 951.5 585.9 952.5 580.9 953.5 576 954.5 571.2 955.5 566.5 956.5 562 957.6 557.9 958.7 554 959.8 550.4 961 547.1 962.2 544 963.5 541.1 964.7 538.5 965.9 536 967.2 533.7 968.4 531.6 969.6 529.7 970.7 528 971.8 526.6 972.9 525.3 974.1 524.2 975.3 523.1 976.7 522.1 978.1 521.1 979.6 520.1 981.2 519.2 982.8 518.3 984.5 517.5 986.3 516.8 988.2 516.1 990.3 515.6 992.6 515 995.2 514.6 997.8 514.2 1000.7 513.9 1003.6 513.6 1006.8 513.5 1010 513.3 1013.4 513.2 1016.9 513.2 1020.6 513.2 1024.7 513.3 1028.9 513.4 1033.3 513.6 1037.6 513.8 1041.8 514 1045.7 514.3 1049.2 514.5 1052.3 514.8 1055.1 515 1057.7 515.3 1060.2 515.6 1062.5 516 1064.7 516.3 1067 516.7 1069.4 517.1 1071.9 517.6 1074.6 518.2 1077.3 518.8 1080 519.4 1082.4 520 1084.7 520.6 1086.6 521 1088 521.3" fill="none" stroke="#fb7f2e" stroke-width="5.2" stroke-linejoin="round" stroke-linecap="round" />
<text transform="translate(664 623) rotate(-90)" text-anchor="middle" font-family="'Liberation Sans', Arial, sans-serif" font-size="28" fill="#111" stroke="#111" stroke-width="0.4" textLength="337" lengthAdjust="spacingAndGlyphs">EDS Intensity (Normalized)</text>
<text x="922" y="846.6" font-family="'Liberation Sans', Arial, sans-serif" font-size="28" fill="#111" stroke="#111" stroke-width="0.4" text-anchor="middle" textLength="171" lengthAdjust="spacingAndGlyphs">Position (μm)</text>
<text x="755.6" y="519.9" font-family="'Liberation Sans', Arial, sans-serif" font-size="28" fill="#111" stroke="#111" stroke-width="0.4" text-anchor="start" textLength="174" lengthAdjust="spacingAndGlyphs">Single crystal</text>
<text x="800.2" y="557.7" font-family="'Liberation Sans', Arial, sans-serif" font-size="28" fill="#111" stroke="#111" stroke-width="0.4" text-anchor="start" >Dark</text>
<text x="800.9" y="592" font-family="'Liberation Sans', Arial, sans-serif" font-size="28" fill="#111" stroke="#111" stroke-width="0.4" text-anchor="start" >Illumination</text>
<circle cx="764.5" cy="549.3" r="5.5" fill="#000"/><rect x="759.6" y="579.4" width="9.8" height="9.4" fill="#ff6600"/>
<path d="M1375.1 769v-7.5M1463.3 769v-7.5M1551.6 769v-7.5M1639.8 769v-7.5M1728 769v-7.5M1419.2 769v-4.5M1507.4 769v-4.5M1595.7 769v-4.5M1683.9 769v-4.5M1331 743.2h7.5M1331 691.8h7.5M1331 640.2h7.5M1331 588.8h7.5M1331 537.2h7.5M1331 485.8h7.5M1331 717.5h4.5M1331 666h4.5M1331 614.5h4.5M1331 563h4.5M1331 511.5h4.5" stroke="#262626" stroke-width="2.4" fill="none"/>
<rect x="1331" y="460" width="397" height="309" fill="none" stroke="#262626" stroke-width="2.4"/>
<g font-family="'Liberation Sans', Arial, sans-serif" font-size="28" fill="#111" stroke="#111" stroke-width="0.4"><text x="1375.1" y="797.4" text-anchor="middle">0</text><text x="1463.3" y="797.4" text-anchor="middle">2</text><text x="1551.6" y="797.4" text-anchor="middle">4</text><text x="1639.8" y="797.4" text-anchor="middle">6</text><text x="1728" y="797.4" text-anchor="middle">8</text><text x="1323.5" y="751.8" text-anchor="end">0.0</text><text x="1323.5" y="700.2" text-anchor="end">0.2</text><text x="1323.5" y="648.8" text-anchor="end">0.4</text><text x="1323.5" y="597.2" text-anchor="end">0.6</text><text x="1323.5" y="545.8" text-anchor="end">0.8</text><text x="1323.5" y="494.2" text-anchor="end">1.0</text></g>
<clipPath id="hc"><rect x="1331" y="460" width="397" height="309"/></clipPath><g clip-path="url(#hc)">
<g fill="#1f3cff"><circle cx="1375.1" cy="723.7" r="5.1"/><circle cx="1380" cy="734.5" r="5.1"/><circle cx="1384.8" cy="741.2" r="5.1"/><circle cx="1387.5" cy="721.9" r="5.1"/><circle cx="1394.1" cy="720.1" r="5.1"/><circle cx="1397.6" cy="736.3" r="5.1"/><circle cx="1406.9" cy="741.2" r="5.1"/><circle cx="1411.3" cy="730.9" r="5.1"/><circle cx="1420.1" cy="735.5" r="5.1"/><circle cx="1426.7" cy="721.9" r="5.1"/><circle cx="1432.5" cy="739.4" r="5.1"/><circle cx="1439.5" cy="729.9" r="5.1"/><circle cx="1442.2" cy="717.2" r="5.1"/><circle cx="1445.7" cy="730.9" r="5.1"/><circle cx="1455" cy="737.1" r="5.1"/><circle cx="1456.7" cy="728.1" r="5.1"/><circle cx="1462.5" cy="726.3" r="5.1"/><circle cx="1468.2" cy="736.3" r="5.1"/><circle cx="1472.2" cy="725.5" r="5.1"/><circle cx="1475.2" cy="733.7" r="5.1"/><circle cx="1480.5" cy="729.9" r="5.1"/><circle cx="1488" cy="723.7" r="5.1"/><circle cx="1493.3" cy="733.7" r="5.1"/><circle cx="1499.1" cy="728.1" r="5.1"/><circle cx="1502.6" cy="720.1" r="5.1"/><circle cx="1507.9" cy="719" r="5.1"/><circle cx="1513.6" cy="729.9" r="5.1"/><circle cx="1517.1" cy="712.6" r="5.1"/><circle cx="1505.7" cy="716.5" r="5.1"/><circle cx="1517.6" cy="710.5" r="5.1"/><circle cx="1523.3" cy="704.9" r="5.1"/><circle cx="1537.9" cy="710.5" r="5.1"/><circle cx="1542.3" cy="703.3" r="5.1"/><circle cx="1544.9" cy="693.3" r="5.1"/><circle cx="1552.4" cy="700.5" r="5.1"/><circle cx="1561.3" cy="703.3" r="5.1"/><circle cx="1558.2" cy="665.7" r="5.1"/><circle cx="1565.7" cy="668.6" r="5.1"/><circle cx="1568.3" cy="680.2" r="5.1"/><circle cx="1571.4" cy="693.3" r="5.1"/><circle cx="1575.8" cy="686.1" r="5.1"/><circle cx="1581.6" cy="687.4" r="5.1"/><circle cx="1586" cy="690.5" r="5.1"/><circle cx="1590.4" cy="691.8" r="5.1"/><circle cx="1587.3" cy="673" r="5.1"/><circle cx="1593" cy="665.7" r="5.1"/><circle cx="1596.1" cy="674.2" r="5.1"/><circle cx="1599.2" cy="677.3" r="5.1"/><circle cx="1603.6" cy="680.2" r="5.1"/><circle cx="1609.3" cy="671.4" r="5.1"/><circle cx="1610.7" cy="661.4" r="5.1"/><circle cx="1616.4" cy="654.2" r="5.1"/><circle cx="1619.5" cy="626.6" r="5.1"/><circle cx="1622.6" cy="606.3" r="5.1"/><circle cx="1627" cy="596" r="5.1"/><circle cx="1629.6" cy="584.4" r="5.1"/><circle cx="1632.7" cy="615" r="5.1"/><circle cx="1634" cy="588.8" r="5.1"/><circle cx="1639.8" cy="596" r="5.1"/><circle cx="1642.9" cy="540.9" r="5.1"/><circle cx="1646" cy="561.2" r="5.1"/><circle cx="1648.6" cy="546.8" r="5.1"/><circle cx="1651.7" cy="556.8" r="5.1"/><circle cx="1654.3" cy="507.6" r="5.1"/><circle cx="1658.7" cy="545.2" r="5.1"/><circle cx="1658.7" cy="536.5" r="5.1"/><circle cx="1663.2" cy="533.6" r="5.1"/><circle cx="1667.6" cy="490.1" r="5.1"/><circle cx="1672" cy="522.1" r="5.1"/><circle cx="1675.1" cy="526.4" r="5.1"/><circle cx="1677.7" cy="519.2" r="5.1"/><circle cx="1677.7" cy="538" r="5.1"/><circle cx="1685.2" cy="516.1" r="5.1"/><circle cx="1686.5" cy="498.9" r="5.1"/><circle cx="1690.9" cy="485.8" r="5.1"/><circle cx="1694" cy="493" r="5.1"/><circle cx="1701.1" cy="488.6" r="5.1"/><circle cx="1704.2" cy="520.5" r="5.1"/><circle cx="1706.8" cy="539.3" r="5.1"/><circle cx="1709.9" cy="542.4" r="5.1"/><circle cx="1401.6" cy="730.4" r="5.1"/><circle cx="1417" cy="727.8" r="5.1"/><circle cx="1423.6" cy="733" r="5.1"/><circle cx="1430.2" cy="727.8" r="5.1"/><circle cx="1436.9" cy="725.2" r="5.1"/><circle cx="1450.1" cy="730.4" r="5.1"/><circle cx="1463.3" cy="733" r="5.1"/><circle cx="1483.2" cy="727.8" r="5.1"/><circle cx="1489.8" cy="730.4" r="5.1"/><circle cx="1496.4" cy="725.2" r="5.1"/><circle cx="1509.7" cy="725.2" r="5.1"/><circle cx="1520.7" cy="720.1" r="5.1"/><circle cx="1527.3" cy="717.5" r="5.1"/><circle cx="1531.7" cy="720.1" r="5.1"/><circle cx="1547.1" cy="707.2" r="5.1"/><circle cx="1533.9" cy="714.9" r="5.1"/><circle cx="1390.5" cy="727.8" r="5.1"/><circle cx="1381.7" cy="727.8" r="5.1"/></g>
<path fill="#ff0000" d="M1327.6 721.3h9.4v9.4h-9.4zM1337.3 719h9.4v9.4h-9.4zM1347 723.9h9.4v9.4h-9.4zM1356.7 719.8h9.4v9.4h-9.4zM1366.4 722.6h9.4v9.4h-9.4zM1376 723.4h9.4v9.4h-9.4zM1385.7 725.9h9.4v9.4h-9.4zM1395.4 721.8h9.4v9.4h-9.4zM1405.1 721.3h9.4v9.4h-9.4zM1414.8 720.5h9.4v9.4h-9.4zM1424.4 719.8h9.4v9.4h-9.4zM1434.1 719.8h9.4v9.4h-9.4zM1443.8 719h9.4v9.4h-9.4zM1453.5 712.8h9.4v9.4h-9.4zM1463.2 712.8h9.4v9.4h-9.4zM1472.9 704.6h9.4v9.4h-9.4zM1482.5 698.9h9.4v9.4h-9.4zM1492.2 688.3h9.4v9.4h-9.4zM1501.9 678h9.4v9.4h-9.4zM1511.6 679.8h9.4v9.4h-9.4zM1521.3 669.5h9.4v9.4h-9.4zM1531 655.1h9.4v9.4h-9.4zM1540.6 653.8h9.4v9.4h-9.4zM1550.3 639.2h9.4v9.4h-9.4zM1560 627.6h9.4v9.4h-9.4zM1569.7 627.6h9.4v9.4h-9.4zM1579.4 616h9.4v9.4h-9.4zM1589 601.6h9.4v9.4h-9.4zM1598.7 584h9.4v9.4h-9.4zM1608.4 566.5h9.4v9.4h-9.4zM1618.1 544.9h9.4v9.4h-9.4zM1627.8 542.1h9.4v9.4h-9.4zM1637.5 507.3h9.4v9.4h-9.4zM1647.1 510.1h9.4v9.4h-9.4zM1656.8 501.4h9.4v9.4h-9.4zM1666.5 494.2h9.4v9.4h-9.4zM1676.2 501.4h9.4v9.4h-9.4zM1685.9 497h9.4v9.4h-9.4zM1695.6 499.8h9.4v9.4h-9.4zM1705.2 494.2h9.4v9.4h-9.4zM1714.9 497h9.4v9.4h-9.4zM1723.3 511.4h9.4v9.4h-9.4z"/>
</g>
<text transform="translate(1273 625.5) rotate(-90)" text-anchor="middle" font-family="'Liberation Sans', Arial, sans-serif" font-size="28" fill="#111" stroke="#111" stroke-width="0.4" textLength="326.5" lengthAdjust="spacingAndGlyphs">EDS intensity (Normalized)</text>
<text x="1529.5" y="833.7" font-family="'Liberation Sans', Arial, sans-serif" font-size="28" fill="#111" stroke="#111" stroke-width="0.4" text-anchor="middle" >Position (μm)</text>
<text x="1366" y="514.7" font-family="'Liberation Sans', Arial, sans-serif" font-size="28" fill="#111" stroke="#111" stroke-width="0.4" text-anchor="start" textLength="245" lengthAdjust="spacingAndGlyphs">Polycrystalline Film</text>
<text x="1407.9" y="558" font-family="'Liberation Sans', Arial, sans-serif" font-size="28" fill="#111" stroke="#111" stroke-width="0.4" text-anchor="start" textLength="176.5" lengthAdjust="spacing">293 K (20 <tspan dy="-12" font-size="25">o</tspan><tspan dy="12">C)</tspan></text>
<text x="1407.9" y="592" font-family="'Liberation Sans', Arial, sans-serif" font-size="28" fill="#111" stroke="#111" stroke-width="0.4" text-anchor="start" textLength="176.5" lengthAdjust="spacing">323 K (50 <tspan dy="-12" font-size="25">o</tspan><tspan dy="12">C)</tspan></text>
<circle cx="1373.9" cy="551" r="5" fill="#1f3cff"/><rect x="1368.5" y="580.3" width="10" height="10" fill="#ff0000"/>
</svg></body></html>
